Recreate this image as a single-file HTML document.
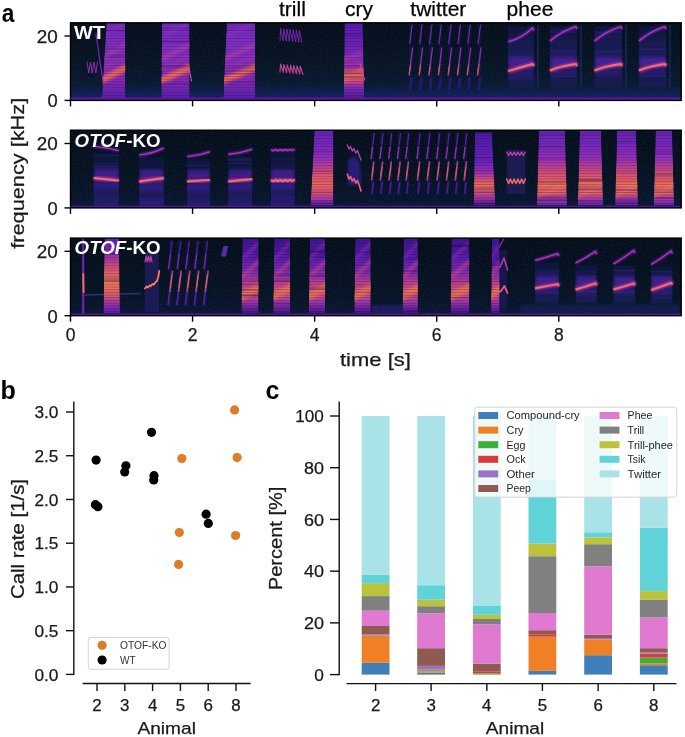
<!DOCTYPE html><html><head><meta charset="utf-8"><style>html,body{margin:0;padding:0;background:#fff;}svg{display:block;}text{font-family:"Liberation Sans",sans-serif;}</style></head><body>
<svg width="685" height="737" viewBox="0 0 685 737">
<rect width="685" height="737" fill="#ffffff"/>
<g opacity="0.999">
<defs>
<filter id="blur1" x="-20%" y="-20%" width="140%" height="140%"><feGaussianBlur stdDeviation="0.6"/></filter>
<filter id="blur2" x="-30%" y="-30%" width="160%" height="160%"><feGaussianBlur stdDeviation="1.4"/></filter>
<filter id="glow" x="-20%" y="-50%" width="140%" height="200%"><feGaussianBlur stdDeviation="0.8"/></filter>
<linearGradient id="gBG" x1="0" y1="0" x2="0" y2="1">
      <stop offset="0" stop-color="#040d18"/>
      <stop offset="0.6" stop-color="#061424"/>
      <stop offset="0.8" stop-color="#081830"/>
      <stop offset="0.93" stop-color="#101e54"/>
      <stop offset="1" stop-color="#1c2274"/>
    </linearGradient>
<linearGradient id="gBG2" x1="0" y1="0" x2="0" y2="1">
      <stop offset="0" stop-color="#040d18"/>
      <stop offset="0.7" stop-color="#051222"/>
      <stop offset="0.9" stop-color="#07142c"/>
      <stop offset="1" stop-color="#0b163a"/>
    </linearGradient>
<linearGradient id="gPhB" x1="0" y1="0" x2="0" y2="1">
      <stop offset="0" stop-color="#0c1436"/>
      <stop offset="0.3" stop-color="#141a4a"/>
      <stop offset="0.5" stop-color="#1c1c5a"/>
      <stop offset="0.65" stop-color="#2a1c78"/>
      <stop offset="0.75" stop-color="#1c1a58"/>
      <stop offset="0.9" stop-color="#221a66"/>
      <stop offset="1" stop-color="#2c1a78"/>
    </linearGradient>
<linearGradient id="gWT" x1="0" y1="0" x2="0" y2="1">
      <stop offset="0" stop-color="#7a2cc4"/>
      <stop offset="0.3" stop-color="#8430c2"/>
      <stop offset="0.55" stop-color="#8e30bc"/>
      <stop offset="0.75" stop-color="#8a2cb8"/>
      <stop offset="0.9" stop-color="#7026b2"/>
      <stop offset="1" stop-color="#5a20a8"/>
    </linearGradient>
<linearGradient id="gKO" x1="0" y1="0" x2="0" y2="1">
      <stop offset="0" stop-color="#6a24b8"/>
      <stop offset="0.2" stop-color="#7c2abe"/>
      <stop offset="0.38" stop-color="#9a32b8"/>
      <stop offset="0.5" stop-color="#c6448e"/>
      <stop offset="0.62" stop-color="#e65a6a"/>
      <stop offset="0.75" stop-color="#ee6660"/>
      <stop offset="0.86" stop-color="#d04c80"/>
      <stop offset="0.94" stop-color="#9a36b0"/>
      <stop offset="1" stop-color="#6022aa"/>
    </linearGradient>
<linearGradient id="gK3" x1="0" y1="0" x2="0" y2="1">
      <stop offset="0" stop-color="#40168e"/>
      <stop offset="0.25" stop-color="#581cac"/>
      <stop offset="0.45" stop-color="#842cb4"/>
      <stop offset="0.6" stop-color="#c0428e"/>
      <stop offset="0.72" stop-color="#e65c66"/>
      <stop offset="0.84" stop-color="#ac3aa8"/>
      <stop offset="1" stop-color="#40168e"/>
    </linearGradient>
<linearGradient id="gCry" x1="0" y1="0" x2="0" y2="1">
      <stop offset="0" stop-color="#4a1ca8"/>
      <stop offset="0.4" stop-color="#6e24bc"/>
      <stop offset="0.56" stop-color="#a434b0"/>
      <stop offset="0.66" stop-color="#e05870"/>
      <stop offset="0.76" stop-color="#f07252"/>
      <stop offset="0.86" stop-color="#c44490"/>
      <stop offset="1" stop-color="#4e1ca0"/>
    </linearGradient>
<linearGradient id="gCry1" x1="0" y1="0" x2="0" y2="1">
      <stop offset="0" stop-color="#5c1eae"/>
      <stop offset="0.3" stop-color="#7024b8"/>
      <stop offset="0.5" stop-color="#902eb8"/>
      <stop offset="0.6" stop-color="#ae38aa"/>
      <stop offset="0.66" stop-color="#d85070"/>
      <stop offset="0.72" stop-color="#ee6a5c"/>
      <stop offset="0.78" stop-color="#d0487e"/>
      <stop offset="0.86" stop-color="#8a2cb4"/>
      <stop offset="1" stop-color="#4e1ca0"/>
    </linearGradient>
<linearGradient id="gK3b" x1="0" y1="0" x2="0" y2="1">
      <stop offset="0" stop-color="#6a22c0"/>
      <stop offset="0.2" stop-color="#8a2eb8"/>
      <stop offset="0.32" stop-color="#c2448c"/>
      <stop offset="0.45" stop-color="#e86264"/>
      <stop offset="0.62" stop-color="#f27a52"/>
      <stop offset="0.76" stop-color="#e05e6a"/>
      <stop offset="0.86" stop-color="#a63aa8"/>
      <stop offset="1" stop-color="#5a1ea8"/>
    </linearGradient>
<linearGradient id="gPh" x1="0" y1="0" x2="0" y2="1">
      <stop offset="0" stop-color="#0e163c"/>
      <stop offset="0.35" stop-color="#171c52"/>
      <stop offset="0.55" stop-color="#221e66"/>
      <stop offset="0.7" stop-color="#1c1c5a"/>
      <stop offset="1" stop-color="#131a46"/>
    </linearGradient>
<filter id="noise" x="0" y="0" width="100%" height="100%" filterUnits="objectBoundingBox">
      <feTurbulence type="fractalNoise" baseFrequency="0.7 0.9" numOctaves="1" seed="5" result="n"/>
      <feColorMatrix in="n" type="matrix" values="0 0 0 0 0.07  0 0 0 0 0.11  0 0 0 0 0.26  0 0 0 1.4 -0.58"/>
    </filter>
<pattern id="pStr" x="0" y="0.3" width="40" height="2.7" patternUnits="userSpaceOnUse"><rect x="0" y="0" width="40" height="1.0" fill="#180848" opacity="0.32"/></pattern>
</defs>
<text x="1.80" y="22.00" font-size="25" text-anchor="start" font-weight="bold" fill="#000" textLength="12.60" lengthAdjust="spacingAndGlyphs" >a</text>
<text x="0.60" y="399.30" font-size="25" text-anchor="start" font-weight="bold" fill="#000" >b</text>
<text x="265.60" y="399.30" font-size="25" text-anchor="start" font-weight="bold" fill="#000" >c</text>
<text x="279.00" y="16.40" font-size="21.0" text-anchor="start" fill="#000" stroke="#000" stroke-width="0.25" >trill</text>
<text x="345.00" y="16.40" font-size="21.0" text-anchor="start" fill="#000" stroke="#000" stroke-width="0.25" >cry</text>
<text x="410.30" y="16.40" font-size="21.0" text-anchor="start" fill="#000" stroke="#000" stroke-width="0.25" >twitter</text>
<text x="506.60" y="16.40" font-size="21.0" text-anchor="start" fill="#000" stroke="#000" stroke-width="0.25" >phee</text>
<g>
<rect x="70.50" y="22.80" width="610.70" height="77.60" fill="url(#gBG)"/>
<rect x="70.50" y="22.80" width="610.70" height="77.60" filter="url(#noise)" opacity="0.35"/>
<g filter="url(#blur1)">
<clipPath id="cb1"><polygon points="106.5,22.8 125.2,22.8 125.2,97.9 101.9,97.9" fill="#000" /></clipPath>
<g clip-path="url(#cb1)">
<polygon points="106.5,22.8 125.2,22.8 125.2,97.9 101.9,97.9" fill="url(#gWT)" />
<polygon points="99.9,77.0 127.2,63.0 127.2,71.0 99.9,85.0" fill="#e85a62" opacity="0.90" filter="url(#blur2)"/>
<polygon points="99.9,79.2 127.2,65.2 127.2,68.8 99.9,82.8" fill="#f47a58" opacity="0.80" filter="url(#blur2)"/>
<polygon points="99.9,57.5 127.2,41.5 127.2,46.5 99.9,62.5" fill="#b240b8" opacity="0.75" filter="url(#blur2)"/>
<polygon points="99.9,68.5 127.2,54.5 127.2,57.5 99.9,71.5" fill="#a238bc" opacity="0.60" filter="url(#blur2)"/>
<polygon points="103.9,34.0 121.2,23.0 121.2,27.0 103.9,38.0" fill="#9a38c4" opacity="0.70" filter="url(#blur2)"/>
<rect x="99.9" y="22.8" width="27.3" height="75.1" fill="url(#pStr)"/>
<rect x="101.9" y="47.8" width="23.3" height="1.2" fill="#1e0c58" opacity="0.25"/>
<rect x="101.9" y="30.0" width="23.3" height="1.6" fill="#1e0c58" opacity="0.19"/>
<rect x="101.9" y="28.9" width="23.3" height="1.6" fill="#1e0c58" opacity="0.13"/>
<rect x="101.9" y="55.6" width="23.3" height="1.1" fill="#1e0c58" opacity="0.14"/>
<rect x="101.9" y="55.0" width="23.3" height="2.0" fill="#1e0c58" opacity="0.14"/>
</g>
<clipPath id="cb2"><polygon points="161.9,22.8 189.5,22.8 189.5,97.9 161.4,97.9" fill="#000" /></clipPath>
<g clip-path="url(#cb2)">
<polygon points="161.9,22.8 189.5,22.8 189.5,97.9 161.4,97.9" fill="url(#gWT)" />
<polygon points="159.4,77.0 191.5,63.0 191.5,71.0 159.4,85.0" fill="#e85a62" opacity="0.90" filter="url(#blur2)"/>
<polygon points="159.4,79.2 191.5,65.2 191.5,68.8 159.4,82.8" fill="#f47a58" opacity="0.80" filter="url(#blur2)"/>
<polygon points="159.4,57.5 191.5,41.5 191.5,46.5 159.4,62.5" fill="#b240b8" opacity="0.75" filter="url(#blur2)"/>
<polygon points="159.4,68.5 191.5,54.5 191.5,57.5 159.4,71.5" fill="#a238bc" opacity="0.60" filter="url(#blur2)"/>
<polygon points="163.4,34.0 185.5,23.0 185.5,27.0 163.4,38.0" fill="#9a38c4" opacity="0.70" filter="url(#blur2)"/>
<rect x="159.4" y="22.8" width="32.1" height="75.1" fill="url(#pStr)"/>
<rect x="161.4" y="40.7" width="28.1" height="1.8" fill="#1e0c58" opacity="0.31"/>
<rect x="161.4" y="65.8" width="28.1" height="1.5" fill="#1e0c58" opacity="0.32"/>
<rect x="161.4" y="28.1" width="28.1" height="2.0" fill="#1e0c58" opacity="0.18"/>
<rect x="161.4" y="35.1" width="28.1" height="1.1" fill="#1e0c58" opacity="0.18"/>
<rect x="161.4" y="82.8" width="28.1" height="1.2" fill="#1e0c58" opacity="0.24"/>
</g>
<clipPath id="cb3"><polygon points="226.8,22.8 255.0,22.8 255.0,97.9 223.3,97.9" fill="#000" /></clipPath>
<g clip-path="url(#cb3)">
<polygon points="226.8,22.8 255.0,22.8 255.0,97.9 223.3,97.9" fill="url(#gWT)" />
<polygon points="221.3,77.0 257.0,63.0 257.0,71.0 221.3,85.0" fill="#e85a62" opacity="0.90" filter="url(#blur2)"/>
<polygon points="221.3,79.2 257.0,65.2 257.0,68.8 221.3,82.8" fill="#f47a58" opacity="0.80" filter="url(#blur2)"/>
<polygon points="221.3,57.5 257.0,41.5 257.0,46.5 221.3,62.5" fill="#b240b8" opacity="0.75" filter="url(#blur2)"/>
<polygon points="221.3,68.5 257.0,54.5 257.0,57.5 221.3,71.5" fill="#a238bc" opacity="0.60" filter="url(#blur2)"/>
<polygon points="225.3,34.0 251.0,23.0 251.0,27.0 225.3,38.0" fill="#9a38c4" opacity="0.70" filter="url(#blur2)"/>
<rect x="221.3" y="22.8" width="35.7" height="75.1" fill="url(#pStr)"/>
<rect x="223.3" y="70.2" width="31.7" height="1.4" fill="#1e0c58" opacity="0.23"/>
<rect x="223.3" y="29.3" width="31.7" height="1.1" fill="#1e0c58" opacity="0.16"/>
<rect x="223.3" y="73.2" width="31.7" height="1.5" fill="#1e0c58" opacity="0.18"/>
<rect x="223.3" y="66.4" width="31.7" height="1.5" fill="#1e0c58" opacity="0.18"/>
<rect x="223.3" y="81.3" width="31.7" height="1.8" fill="#1e0c58" opacity="0.17"/>
</g>
<polyline points="189.0,68.0 191.5,81.0" fill="none" stroke="#d04a9a" stroke-width="1.2" stroke-linejoin="round" stroke-linecap="round" />
<polyline points="96.0,34.0 103.0,82.0" fill="none" stroke="#7a24b8" stroke-width="1.2" stroke-linejoin="round" stroke-linecap="round" />
<polyline points="87.0,62.0 88.8,73.0 90.5,62.0 92.2,73.0 94.0,62.0 95.8,73.0 97.5,62.0" fill="none" stroke="#9a30b0" stroke-width="0.9" stroke-linejoin="round" stroke-linecap="round" />
<polyline points="280.0,40.5 280.6,28.5 283.1,40.8 283.7,28.8 286.3,41.1 286.9,29.1 289.4,41.4 290.0,29.4 292.6,41.6 293.2,29.6 295.7,41.9 296.3,29.9 298.9,42.2 299.5,30.2 302.0,42.5" fill="none" stroke="#7a28b8" stroke-width="0.9" stroke-linejoin="round" stroke-linecap="round" />
<polyline points="280.0,72.0 280.6,64.0 283.3,72.4 283.9,64.4 286.6,72.7 287.2,64.7 289.9,73.1 290.5,65.1 293.1,73.4 293.7,65.4 296.4,73.8 297.0,65.8 299.7,74.1 300.3,66.1 303.0,74.5" fill="none" stroke="#c04494" stroke-width="1.1" stroke-linejoin="round" stroke-linecap="round" />
<clipPath id="cb4"><polygon points="344.6,22.8 362.7,22.8 364.2,97.9 343.8,97.9" fill="#000" /></clipPath>
<g clip-path="url(#cb4)">
<polygon points="344.6,22.8 362.7,22.8 364.2,97.9 343.8,97.9" fill="url(#gCry1)" />
<polygon points="342.0,76.0 366.0,66.0 366.0,73.0 342.0,83.0" fill="#ee6a5c" opacity="0.85" filter="url(#blur2)"/>
<polygon points="342.0,58.0 366.0,50.0 366.0,54.0 342.0,62.0" fill="#b040b0" opacity="0.60" filter="url(#blur2)"/>
<rect x="341.8" y="22.8" width="24.4" height="75.1" fill="url(#pStr)"/>
<rect x="343.8" y="65.6" width="20.4" height="1.6" fill="#1e0c58" opacity="0.30"/>
<rect x="343.8" y="76.7" width="20.4" height="1.3" fill="#1e0c58" opacity="0.32"/>
<rect x="343.8" y="33.2" width="20.4" height="1.5" fill="#1e0c58" opacity="0.27"/>
<rect x="343.8" y="35.6" width="20.4" height="1.6" fill="#1e0c58" opacity="0.13"/>
<rect x="343.8" y="72.3" width="20.4" height="1.9" fill="#1e0c58" opacity="0.23"/>
</g>
<polyline points="360.0,64.0 364.5,80.0" fill="none" stroke="#c8449a" stroke-width="1.3" stroke-linejoin="round" stroke-linecap="round" />
<rect x="409.4" y="25.0" width="3.0" height="64.0" fill="#161856" opacity="0.5"/>
<g opacity="0.85">
<polyline points="409.7,43.6 412.1,25.0" fill="none" stroke="#8228be" stroke-width="1.3" stroke-linejoin="round" stroke-linecap="round" />
<polyline points="410.5,64.7 412.6,48.0" fill="none" stroke="#a032bc" stroke-width="1.4" stroke-linejoin="round" stroke-linecap="round" />
<polyline points="409.2,74.9 410.5,64.7" fill="none" stroke="#d04a8c" stroke-width="1.5" stroke-linejoin="round" stroke-linecap="round" />
<polyline points="409.4,73.0 410.2,67.2" fill="none" stroke="#ec6a70" stroke-width="0.9" stroke-linejoin="round" stroke-linecap="round" />
<polyline points="410.2,89.0 411.6,78.8" fill="none" stroke="#281a7a" stroke-width="2.8" stroke-linejoin="round" stroke-linecap="round" />
</g>
<rect x="419.4" y="25.0" width="3.0" height="64.0" fill="#161856" opacity="0.5"/>
<g opacity="0.85">
<polyline points="419.7,43.6 422.1,25.0" fill="none" stroke="#8228be" stroke-width="1.3" stroke-linejoin="round" stroke-linecap="round" />
<polyline points="420.5,64.7 422.6,48.0" fill="none" stroke="#a032bc" stroke-width="1.4" stroke-linejoin="round" stroke-linecap="round" />
<polyline points="419.2,74.9 420.5,64.7" fill="none" stroke="#d04a8c" stroke-width="1.5" stroke-linejoin="round" stroke-linecap="round" />
<polyline points="419.4,73.0 420.2,67.2" fill="none" stroke="#ec6a70" stroke-width="0.9" stroke-linejoin="round" stroke-linecap="round" />
<polyline points="420.2,89.0 421.6,78.8" fill="none" stroke="#281a7a" stroke-width="2.8" stroke-linejoin="round" stroke-linecap="round" />
</g>
<rect x="429.2" y="25.0" width="3.0" height="64.0" fill="#161856" opacity="0.5"/>
<g opacity="0.85">
<polyline points="429.5,43.6 431.9,25.0" fill="none" stroke="#8228be" stroke-width="1.3" stroke-linejoin="round" stroke-linecap="round" />
<polyline points="430.3,64.7 432.4,48.0" fill="none" stroke="#a032bc" stroke-width="1.4" stroke-linejoin="round" stroke-linecap="round" />
<polyline points="429.0,74.9 430.3,64.7" fill="none" stroke="#d04a8c" stroke-width="1.5" stroke-linejoin="round" stroke-linecap="round" />
<polyline points="429.2,73.0 430.0,67.2" fill="none" stroke="#ec6a70" stroke-width="0.9" stroke-linejoin="round" stroke-linecap="round" />
<polyline points="430.0,89.0 431.4,78.8" fill="none" stroke="#281a7a" stroke-width="2.8" stroke-linejoin="round" stroke-linecap="round" />
</g>
<rect x="438.6" y="25.0" width="3.0" height="64.0" fill="#161856" opacity="0.5"/>
<g opacity="0.85">
<polyline points="438.9,43.6 441.3,25.0" fill="none" stroke="#8228be" stroke-width="1.3" stroke-linejoin="round" stroke-linecap="round" />
<polyline points="439.7,64.7 441.8,48.0" fill="none" stroke="#a032bc" stroke-width="1.4" stroke-linejoin="round" stroke-linecap="round" />
<polyline points="438.4,74.9 439.7,64.7" fill="none" stroke="#d04a8c" stroke-width="1.5" stroke-linejoin="round" stroke-linecap="round" />
<polyline points="438.6,73.0 439.4,67.2" fill="none" stroke="#ec6a70" stroke-width="0.9" stroke-linejoin="round" stroke-linecap="round" />
<polyline points="439.4,89.0 440.8,78.8" fill="none" stroke="#281a7a" stroke-width="2.8" stroke-linejoin="round" stroke-linecap="round" />
</g>
<rect x="448.4" y="25.0" width="3.0" height="64.0" fill="#161856" opacity="0.5"/>
<g opacity="0.85">
<polyline points="448.7,43.6 451.1,25.0" fill="none" stroke="#8228be" stroke-width="1.3" stroke-linejoin="round" stroke-linecap="round" />
<polyline points="449.5,64.7 451.6,48.0" fill="none" stroke="#a032bc" stroke-width="1.4" stroke-linejoin="round" stroke-linecap="round" />
<polyline points="448.2,74.9 449.5,64.7" fill="none" stroke="#d04a8c" stroke-width="1.5" stroke-linejoin="round" stroke-linecap="round" />
<polyline points="448.4,73.0 449.2,67.2" fill="none" stroke="#ec6a70" stroke-width="0.9" stroke-linejoin="round" stroke-linecap="round" />
<polyline points="449.2,89.0 450.6,78.8" fill="none" stroke="#281a7a" stroke-width="2.8" stroke-linejoin="round" stroke-linecap="round" />
</g>
<rect x="457.7" y="25.0" width="3.0" height="64.0" fill="#161856" opacity="0.5"/>
<g opacity="0.85">
<polyline points="458.0,43.6 460.4,25.0" fill="none" stroke="#8228be" stroke-width="1.3" stroke-linejoin="round" stroke-linecap="round" />
<polyline points="458.8,64.7 460.9,48.0" fill="none" stroke="#a032bc" stroke-width="1.4" stroke-linejoin="round" stroke-linecap="round" />
<polyline points="457.5,74.9 458.8,64.7" fill="none" stroke="#d04a8c" stroke-width="1.5" stroke-linejoin="round" stroke-linecap="round" />
<polyline points="457.7,73.0 458.5,67.2" fill="none" stroke="#ec6a70" stroke-width="0.9" stroke-linejoin="round" stroke-linecap="round" />
<polyline points="458.5,89.0 459.9,78.8" fill="none" stroke="#281a7a" stroke-width="2.8" stroke-linejoin="round" stroke-linecap="round" />
</g>
<rect x="467.5" y="25.0" width="3.0" height="64.0" fill="#161856" opacity="0.5"/>
<g opacity="0.85">
<polyline points="467.8,43.6 470.2,25.0" fill="none" stroke="#8228be" stroke-width="1.3" stroke-linejoin="round" stroke-linecap="round" />
<polyline points="468.6,64.7 470.7,48.0" fill="none" stroke="#a032bc" stroke-width="1.4" stroke-linejoin="round" stroke-linecap="round" />
<polyline points="467.3,74.9 468.6,64.7" fill="none" stroke="#d04a8c" stroke-width="1.5" stroke-linejoin="round" stroke-linecap="round" />
<polyline points="467.5,73.0 468.3,67.2" fill="none" stroke="#ec6a70" stroke-width="0.9" stroke-linejoin="round" stroke-linecap="round" />
<polyline points="468.3,89.0 469.7,78.8" fill="none" stroke="#281a7a" stroke-width="2.8" stroke-linejoin="round" stroke-linecap="round" />
</g>
<rect x="477.8" y="25.0" width="3.0" height="64.0" fill="#161856" opacity="0.5"/>
<g opacity="0.85">
<polyline points="478.1,43.6 480.5,25.0" fill="none" stroke="#8228be" stroke-width="1.3" stroke-linejoin="round" stroke-linecap="round" />
<polyline points="478.9,64.7 481.0,48.0" fill="none" stroke="#a032bc" stroke-width="1.4" stroke-linejoin="round" stroke-linecap="round" />
<polyline points="477.6,74.9 478.9,64.7" fill="none" stroke="#d04a8c" stroke-width="1.5" stroke-linejoin="round" stroke-linecap="round" />
<polyline points="477.8,73.0 478.6,67.2" fill="none" stroke="#ec6a70" stroke-width="0.9" stroke-linejoin="round" stroke-linecap="round" />
<polyline points="478.6,89.0 480.0,78.8" fill="none" stroke="#281a7a" stroke-width="2.8" stroke-linejoin="round" stroke-linecap="round" />
</g>
<rect x="537.0" y="24.8" width="1.6" height="62" fill="#182a66" opacity="0.8"/>
<rect x="508.1" y="25.8" width="25.7" height="62.6" fill="url(#gPh)"/>
<rect x="509.1" y="57.6" width="23.7" height="10.0" fill="#5a22b0" opacity="0.6" filter="url(#blur2)"/>
<rect x="509.1" y="70.6" width="23.7" height="5.0" fill="#3a1e90" opacity="0.45" filter="url(#blur2)"/>
<rect x="508.1" y="79.1" width="25.7" height="1.1" fill="#3a2a90" opacity="0.33"/>
<rect x="508.1" y="68.5" width="25.7" height="1.1" fill="#3a2a90" opacity="0.40"/>
<rect x="508.1" y="61.8" width="25.7" height="1.1" fill="#3a2a90" opacity="0.36"/>
<rect x="508.1" y="77.0" width="25.7" height="1.1" fill="#3a2a90" opacity="0.49"/>
<rect x="508.1" y="55.6" width="25.7" height="1.1" fill="#3a2a90" opacity="0.42"/>
<path d="M508.1,41.8 Q522.2,38.3 532.6,27.8 L533.8,30.3" fill="none" stroke="#8a26c0" stroke-width="2.2" filter="url(#glow)"/>
<path d="M508.1,41.8 Q522.2,38.3 532.6,27.8 L533.8,30.3" fill="none" stroke="#b63cbc" stroke-width="1.1"/>
<path d="M508.1,71.2 Q521.0,67.2 532.6,64.0 L533.8,66.0" fill="none" stroke="#b83498" stroke-width="4.0" filter="url(#glow)"/>
<path d="M508.1,71.2 Q521.0,67.2 532.6,64.0 L533.8,66.0" fill="none" stroke="#f27260" stroke-width="1.9"/>
<rect x="580.2" y="24.8" width="1.6" height="62" fill="#182a66" opacity="0.8"/>
<rect x="550.0" y="25.8" width="27.0" height="62.6" fill="url(#gPh)"/>
<rect x="551.0" y="57.2" width="25.0" height="10.0" fill="#5a22b0" opacity="0.6" filter="url(#blur2)"/>
<rect x="551.0" y="70.2" width="25.0" height="5.0" fill="#3a1e90" opacity="0.45" filter="url(#blur2)"/>
<rect x="550.0" y="31.4" width="27.0" height="1.1" fill="#3a2a90" opacity="0.43"/>
<rect x="550.0" y="65.7" width="27.0" height="1.1" fill="#3a2a90" opacity="0.50"/>
<rect x="550.0" y="76.0" width="27.0" height="1.1" fill="#3a2a90" opacity="0.32"/>
<rect x="550.0" y="50.4" width="27.0" height="1.1" fill="#3a2a90" opacity="0.42"/>
<rect x="550.0" y="29.1" width="27.0" height="1.1" fill="#3a2a90" opacity="0.37"/>
<path d="M550.0,41.0 Q560.8,31.6 575.8,26.5 L577.0,29.0" fill="none" stroke="#8a26c0" stroke-width="2.2" filter="url(#glow)"/>
<path d="M550.0,41.0 Q560.8,31.6 575.8,26.5 L577.0,29.0" fill="none" stroke="#b63cbc" stroke-width="1.1"/>
<path d="M550.0,70.5 Q560.8,66.0 575.8,64.0 L577.0,66.0" fill="none" stroke="#b83498" stroke-width="4.0" filter="url(#glow)"/>
<path d="M550.0,70.5 Q560.8,66.0 575.8,64.0 L577.0,66.0" fill="none" stroke="#f27260" stroke-width="1.9"/>
<rect x="625.2" y="24.8" width="1.6" height="62" fill="#182a66" opacity="0.8"/>
<rect x="594.5" y="25.8" width="27.5" height="62.6" fill="url(#gPh)"/>
<rect x="595.5" y="57.2" width="25.5" height="10.0" fill="#5a22b0" opacity="0.6" filter="url(#blur2)"/>
<rect x="595.5" y="70.2" width="25.5" height="5.0" fill="#3a1e90" opacity="0.45" filter="url(#blur2)"/>
<rect x="594.5" y="37.6" width="27.5" height="1.1" fill="#3a2a90" opacity="0.28"/>
<rect x="594.5" y="31.3" width="27.5" height="1.1" fill="#3a2a90" opacity="0.44"/>
<rect x="594.5" y="35.4" width="27.5" height="1.1" fill="#3a2a90" opacity="0.31"/>
<rect x="594.5" y="50.7" width="27.5" height="1.1" fill="#3a2a90" opacity="0.47"/>
<rect x="594.5" y="32.5" width="27.5" height="1.1" fill="#3a2a90" opacity="0.36"/>
<path d="M594.5,41.0 Q605.5,31.6 620.8,26.5 L622.0,29.0" fill="none" stroke="#8a26c0" stroke-width="2.2" filter="url(#glow)"/>
<path d="M594.5,41.0 Q605.5,31.6 620.8,26.5 L622.0,29.0" fill="none" stroke="#b63cbc" stroke-width="1.1"/>
<path d="M594.5,70.5 Q605.5,66.0 620.8,64.0 L622.0,66.0" fill="none" stroke="#b83498" stroke-width="4.0" filter="url(#glow)"/>
<path d="M594.5,70.5 Q605.5,66.0 620.8,64.0 L622.0,66.0" fill="none" stroke="#f27260" stroke-width="1.9"/>
<rect x="669.2" y="24.8" width="1.6" height="62" fill="#182a66" opacity="0.8"/>
<rect x="639.0" y="25.8" width="27.0" height="62.6" fill="url(#gPh)"/>
<rect x="640.0" y="57.2" width="25.0" height="10.0" fill="#5a22b0" opacity="0.6" filter="url(#blur2)"/>
<rect x="640.0" y="70.2" width="25.0" height="5.0" fill="#3a1e90" opacity="0.45" filter="url(#blur2)"/>
<rect x="639.0" y="60.0" width="27.0" height="1.1" fill="#3a2a90" opacity="0.47"/>
<rect x="639.0" y="75.8" width="27.0" height="1.1" fill="#3a2a90" opacity="0.47"/>
<rect x="639.0" y="44.1" width="27.0" height="1.1" fill="#3a2a90" opacity="0.35"/>
<rect x="639.0" y="48.8" width="27.0" height="1.1" fill="#3a2a90" opacity="0.47"/>
<rect x="639.0" y="83.9" width="27.0" height="1.1" fill="#3a2a90" opacity="0.29"/>
<path d="M639.0,41.0 Q649.8,31.6 664.8,26.5 L666.0,29.0" fill="none" stroke="#8a26c0" stroke-width="2.2" filter="url(#glow)"/>
<path d="M639.0,41.0 Q649.8,31.6 664.8,26.5 L666.0,29.0" fill="none" stroke="#b63cbc" stroke-width="1.1"/>
<path d="M639.0,70.5 Q649.8,66.0 664.8,64.0 L666.0,66.0" fill="none" stroke="#b83498" stroke-width="4.0" filter="url(#glow)"/>
<path d="M639.0,70.5 Q649.8,66.0 664.8,64.0 L666.0,66.0" fill="none" stroke="#f27260" stroke-width="1.9"/>
</g>
<rect x="70.50" y="97.70" width="610.70" height="2.2" fill="#64189e"/>
</g>
<rect x="70.50" y="22.80" width="610.70" height="77.60" fill="none" stroke="#000" stroke-width="1.4"/>
<line x1="64.50" y1="100.40" x2="70.50" y2="100.40" stroke="#000" stroke-width="1.4"/>
<text x="57.80" y="107.20" font-size="17.5" text-anchor="end" fill="#1a1a1a" textLength="10.20" lengthAdjust="spacingAndGlyphs" stroke="#1a1a1a" stroke-width="0.25" >0</text>
<line x1="64.50" y1="36.00" x2="70.50" y2="36.00" stroke="#000" stroke-width="1.4"/>
<text x="57.80" y="42.80" font-size="17.5" text-anchor="end" fill="#1a1a1a" textLength="21.00" lengthAdjust="spacingAndGlyphs" stroke="#1a1a1a" stroke-width="0.25" >20</text>
<line x1="70.50" y1="100.40" x2="70.50" y2="106.40" stroke="#000" stroke-width="1.4"/>
<line x1="192.57" y1="100.40" x2="192.57" y2="106.40" stroke="#000" stroke-width="1.4"/>
<line x1="314.65" y1="100.40" x2="314.65" y2="106.40" stroke="#000" stroke-width="1.4"/>
<line x1="436.72" y1="100.40" x2="436.72" y2="106.40" stroke="#000" stroke-width="1.4"/>
<line x1="558.80" y1="100.40" x2="558.80" y2="106.40" stroke="#000" stroke-width="1.4"/>
<text x="74.00" y="38.60" font-size="17.5" text-anchor="start" font-weight="bold" fill="#fff" textLength="31.00" lengthAdjust="spacingAndGlyphs" >WT</text>
<g>
<rect x="70.50" y="130.20" width="610.70" height="77.70" fill="url(#gBG2)"/>
<rect x="70.50" y="130.20" width="610.70" height="77.70" filter="url(#noise)" opacity="0.35"/>
<g filter="url(#blur1)">
<rect x="93.7" y="152.5" width="25.2" height="53.4" fill="url(#gPhB)"/>
<rect x="94.7" y="169.2" width="23.2" height="10.0" fill="#5a22b0" opacity="0.6" filter="url(#blur2)"/>
<rect x="94.7" y="182.2" width="23.2" height="5.0" fill="#3a1e90" opacity="0.45" filter="url(#blur2)"/>
<rect x="93.7" y="163.2" width="25.2" height="1.1" fill="#3a2a90" opacity="0.31"/>
<rect x="93.7" y="166.0" width="25.2" height="1.1" fill="#3a2a90" opacity="0.37"/>
<rect x="93.7" y="183.6" width="25.2" height="1.1" fill="#3a2a90" opacity="0.32"/>
<rect x="93.7" y="154.7" width="25.2" height="1.1" fill="#3a2a90" opacity="0.35"/>
<rect x="93.7" y="172.7" width="25.2" height="1.1" fill="#3a2a90" opacity="0.39"/>
<path d="M93.7,146.5 Q107.6,147.5 117.7,150.5 L118.9,150.5" fill="none" stroke="#8a26c0" stroke-width="2.2" filter="url(#glow)"/>
<path d="M93.7,146.5 Q107.6,147.5 117.7,150.5 L118.9,150.5" fill="none" stroke="#b63cbc" stroke-width="1.1"/>
<path d="M93.7,178.0 Q106.3,179.4 117.7,180.5 L118.9,180.5" fill="none" stroke="#b83498" stroke-width="4.0" filter="url(#glow)"/>
<path d="M93.7,178.0 Q106.3,179.4 117.7,180.5 L118.9,180.5" fill="none" stroke="#f27260" stroke-width="1.9"/>
<rect x="139.2" y="157.0" width="24.6" height="48.9" fill="url(#gPhB)"/>
<rect x="140.2" y="169.9" width="22.6" height="10.0" fill="#5a22b0" opacity="0.6" filter="url(#blur2)"/>
<rect x="140.2" y="182.9" width="22.6" height="5.0" fill="#3a1e90" opacity="0.45" filter="url(#blur2)"/>
<rect x="139.2" y="201.8" width="24.6" height="1.1" fill="#3a2a90" opacity="0.42"/>
<rect x="139.2" y="182.1" width="24.6" height="1.1" fill="#3a2a90" opacity="0.40"/>
<rect x="139.2" y="189.4" width="24.6" height="1.1" fill="#3a2a90" opacity="0.26"/>
<rect x="139.2" y="199.4" width="24.6" height="1.1" fill="#3a2a90" opacity="0.44"/>
<rect x="139.2" y="198.3" width="24.6" height="1.1" fill="#3a2a90" opacity="0.45"/>
<path d="M139.2,155.0 Q152.7,153.3 162.6,148.4 L163.8,148.4" fill="none" stroke="#8a26c0" stroke-width="2.2" filter="url(#glow)"/>
<path d="M139.2,155.0 Q152.7,153.3 162.6,148.4 L163.8,148.4" fill="none" stroke="#b63cbc" stroke-width="1.1"/>
<path d="M139.2,181.5 Q151.5,179.7 162.6,178.3 L163.8,178.3" fill="none" stroke="#b83498" stroke-width="4.0" filter="url(#glow)"/>
<path d="M139.2,181.5 Q151.5,179.7 162.6,178.3 L163.8,178.3" fill="none" stroke="#f27260" stroke-width="1.9"/>
<rect x="187.1" y="158.5" width="22.9" height="47.4" fill="url(#gPhB)"/>
<rect x="188.1" y="170.7" width="20.9" height="10.0" fill="#5a22b0" opacity="0.6" filter="url(#blur2)"/>
<rect x="188.1" y="183.7" width="20.9" height="5.0" fill="#3a1e90" opacity="0.45" filter="url(#blur2)"/>
<rect x="187.1" y="177.5" width="22.9" height="1.1" fill="#3a2a90" opacity="0.35"/>
<rect x="187.1" y="165.0" width="22.9" height="1.1" fill="#3a2a90" opacity="0.41"/>
<rect x="187.1" y="163.2" width="22.9" height="1.1" fill="#3a2a90" opacity="0.27"/>
<rect x="187.1" y="169.6" width="22.9" height="1.1" fill="#3a2a90" opacity="0.29"/>
<rect x="187.1" y="175.3" width="22.9" height="1.1" fill="#3a2a90" opacity="0.26"/>
<path d="M187.1,156.5 Q199.7,155.4 208.8,152.0 L210.0,152.0" fill="none" stroke="#8a26c0" stroke-width="2.2" filter="url(#glow)"/>
<path d="M187.1,156.5 Q199.7,155.4 208.8,152.0 L210.0,152.0" fill="none" stroke="#b63cbc" stroke-width="1.1"/>
<path d="M187.1,181.5 Q198.6,180.6 208.8,179.9 L210.0,179.9" fill="none" stroke="#b83498" stroke-width="4.0" filter="url(#glow)"/>
<path d="M187.1,181.5 Q198.6,180.6 208.8,179.9 L210.0,179.9" fill="none" stroke="#f27260" stroke-width="1.9"/>
<rect x="228.2" y="156.2" width="24.0" height="49.7" fill="url(#gPhB)"/>
<rect x="229.2" y="170.3" width="22.0" height="10.0" fill="#5a22b0" opacity="0.6" filter="url(#blur2)"/>
<rect x="229.2" y="183.3" width="22.0" height="5.0" fill="#3a1e90" opacity="0.45" filter="url(#blur2)"/>
<rect x="228.2" y="158.2" width="24.0" height="1.1" fill="#3a2a90" opacity="0.29"/>
<rect x="228.2" y="162.8" width="24.0" height="1.1" fill="#3a2a90" opacity="0.34"/>
<rect x="228.2" y="159.4" width="24.0" height="1.1" fill="#3a2a90" opacity="0.47"/>
<rect x="228.2" y="186.3" width="24.0" height="1.1" fill="#3a2a90" opacity="0.29"/>
<rect x="228.2" y="169.7" width="24.0" height="1.1" fill="#3a2a90" opacity="0.34"/>
<path d="M228.2,154.2 Q241.4,153.0 251.0,149.5 L252.2,149.5" fill="none" stroke="#8a26c0" stroke-width="2.2" filter="url(#glow)"/>
<path d="M228.2,154.2 Q241.4,153.0 251.0,149.5 L252.2,149.5" fill="none" stroke="#b63cbc" stroke-width="1.1"/>
<path d="M228.2,181.5 Q240.2,180.2 251.0,179.2 L252.2,179.2" fill="none" stroke="#b83498" stroke-width="4.0" filter="url(#glow)"/>
<path d="M228.2,181.5 Q240.2,180.2 251.0,179.2 L252.2,179.2" fill="none" stroke="#f27260" stroke-width="1.9"/>
<rect x="270.9" y="152.0" width="23.8" height="53.9" fill="url(#gPhB)"/>
<rect x="271.9" y="170.2" width="21.8" height="10.0" fill="#5a22b0" opacity="0.6" filter="url(#blur2)"/>
<rect x="271.9" y="183.2" width="21.8" height="5.0" fill="#3a1e90" opacity="0.45" filter="url(#blur2)"/>
<rect x="270.9" y="172.2" width="23.8" height="1.1" fill="#3a2a90" opacity="0.28"/>
<rect x="270.9" y="196.4" width="23.8" height="1.1" fill="#3a2a90" opacity="0.50"/>
<rect x="270.9" y="177.3" width="23.8" height="1.1" fill="#3a2a90" opacity="0.37"/>
<rect x="270.9" y="158.3" width="23.8" height="1.1" fill="#3a2a90" opacity="0.28"/>
<rect x="270.9" y="171.1" width="23.8" height="1.1" fill="#3a2a90" opacity="0.32"/>
<path d="M270.9,149.7 L273.3,150.8 L275.7,149.6 L278.0,150.8 L280.4,149.5 L282.8,150.7 L285.2,149.4 L287.6,150.6 L289.9,149.3 L292.3,150.5 L294.7,149.2" fill="none" stroke="#8a26c0" stroke-width="2.2" filter="url(#glow)"/>
<path d="M270.9,149.7 L273.3,150.8 L275.7,149.6 L278.0,150.8 L280.4,149.5 L282.8,150.7 L285.2,149.4 L287.6,150.6 L289.9,149.3 L292.3,150.5 L294.7,149.2" fill="none" stroke="#b63cbc" stroke-width="1.1"/>
<path d="M270.9,180.2 L273.3,181.3 L275.7,180.1 L278.0,181.2 L280.4,180.0 L282.8,181.2 L285.2,179.9 L287.6,181.1 L289.9,179.8 L292.3,181.0 L294.7,179.7" fill="none" stroke="#b83498" stroke-width="4.0" filter="url(#glow)"/>
<path d="M270.9,180.2 L273.3,181.3 L275.7,180.1 L278.0,181.2 L280.4,180.0 L282.8,181.2 L285.2,179.9 L287.6,181.1 L289.9,179.8 L292.3,181.0 L294.7,179.7" fill="none" stroke="#f27260" stroke-width="1.9"/>
<clipPath id="cb5"><polygon points="314.5,130.2 333.4,130.2 333.4,205.4 310.5,205.4" fill="#000" /></clipPath>
<g clip-path="url(#cb5)">
<polygon points="314.5,130.2 333.4,130.2 333.4,205.4 310.5,205.4" fill="url(#gKO)" />
<rect x="308.5" y="130.2" width="26.9" height="75.2" fill="url(#pStr)"/>
<rect x="310.5" y="191.2" width="22.9" height="1.2" fill="#1e0c58" opacity="0.12"/>
<rect x="310.5" y="199.9" width="22.9" height="1.6" fill="#1e0c58" opacity="0.15"/>
<rect x="310.5" y="170.9" width="22.9" height="1.0" fill="#1e0c58" opacity="0.23"/>
<rect x="310.5" y="201.9" width="22.9" height="2.0" fill="#1e0c58" opacity="0.26"/>
<rect x="310.5" y="150.8" width="22.9" height="1.4" fill="#1e0c58" opacity="0.15"/>
</g>
<polygon points="348.0,160.0 354.0,156.0 360.0,162.0 361.0,185.0 348.0,185.0" fill="#2a1e78" filter="url(#blur2)"/>
<polyline points="347.3,145.0 349.0,149.0 350.5,146.5 352.3,151.0 354.0,148.5 355.8,153.0 357.5,150.5 359.5,156.0 361.0,160.0" fill="none" stroke="#b43ab0" stroke-width="1.4" stroke-linejoin="round" stroke-linecap="round" />
<polyline points="347.3,174.0 349.0,179.0 350.5,176.5 352.3,181.0 354.0,178.5 355.8,183.0 357.5,180.5 359.5,186.0 361.0,191.0" fill="none" stroke="#ec6472" stroke-width="1.6" stroke-linejoin="round" stroke-linecap="round" />
<rect x="371.2" y="132.0" width="3.0" height="63.0" fill="#161856" opacity="0.5"/>
<g opacity="0.85">
<polyline points="372.9,144.6 374.3,133.3" fill="none" stroke="#6a22b8" stroke-width="1.3" stroke-linejoin="round" stroke-linecap="round" />
<polyline points="371.1,158.5 372.5,147.1" fill="none" stroke="#a434bc" stroke-width="1.5" stroke-linejoin="round" stroke-linecap="round" />
<polyline points="371.6,179.9 373.8,162.2" fill="none" stroke="#cc4488" stroke-width="1.7" stroke-linejoin="round" stroke-linecap="round" />
<polyline points="372.0,176.1 373.2,167.3" fill="none" stroke="#f07060" stroke-width="1.0" stroke-linejoin="round" stroke-linecap="round" />
<polyline points="372.0,193.1 373.4,182.4" fill="none" stroke="#4a1ca6" stroke-width="1.8" stroke-linejoin="round" stroke-linecap="round" />
</g>
<rect x="380.0" y="132.0" width="3.0" height="63.0" fill="#161856" opacity="0.5"/>
<g opacity="0.85">
<polyline points="381.7,144.6 383.1,133.3" fill="none" stroke="#6a22b8" stroke-width="1.3" stroke-linejoin="round" stroke-linecap="round" />
<polyline points="379.9,158.5 381.3,147.1" fill="none" stroke="#a434bc" stroke-width="1.5" stroke-linejoin="round" stroke-linecap="round" />
<polyline points="380.4,179.9 382.6,162.2" fill="none" stroke="#cc4488" stroke-width="1.7" stroke-linejoin="round" stroke-linecap="round" />
<polyline points="380.8,176.1 382.0,167.3" fill="none" stroke="#f07060" stroke-width="1.0" stroke-linejoin="round" stroke-linecap="round" />
<polyline points="380.8,193.1 382.2,182.4" fill="none" stroke="#4a1ca6" stroke-width="1.8" stroke-linejoin="round" stroke-linecap="round" />
</g>
<rect x="388.7" y="132.0" width="3.0" height="63.0" fill="#161856" opacity="0.5"/>
<g opacity="0.85">
<polyline points="390.4,144.6 391.8,133.3" fill="none" stroke="#6a22b8" stroke-width="1.3" stroke-linejoin="round" stroke-linecap="round" />
<polyline points="388.6,158.5 390.0,147.1" fill="none" stroke="#a434bc" stroke-width="1.5" stroke-linejoin="round" stroke-linecap="round" />
<polyline points="389.1,179.9 391.3,162.2" fill="none" stroke="#cc4488" stroke-width="1.7" stroke-linejoin="round" stroke-linecap="round" />
<polyline points="389.5,176.1 390.7,167.3" fill="none" stroke="#f07060" stroke-width="1.0" stroke-linejoin="round" stroke-linecap="round" />
<polyline points="389.5,193.1 390.9,182.4" fill="none" stroke="#4a1ca6" stroke-width="1.8" stroke-linejoin="round" stroke-linecap="round" />
</g>
<rect x="397.5" y="132.0" width="3.0" height="63.0" fill="#161856" opacity="0.5"/>
<g opacity="0.85">
<polyline points="399.2,144.6 400.6,133.3" fill="none" stroke="#6a22b8" stroke-width="1.3" stroke-linejoin="round" stroke-linecap="round" />
<polyline points="397.4,158.5 398.8,147.1" fill="none" stroke="#a434bc" stroke-width="1.5" stroke-linejoin="round" stroke-linecap="round" />
<polyline points="397.9,179.9 400.1,162.2" fill="none" stroke="#cc4488" stroke-width="1.7" stroke-linejoin="round" stroke-linecap="round" />
<polyline points="398.3,176.1 399.5,167.3" fill="none" stroke="#f07060" stroke-width="1.0" stroke-linejoin="round" stroke-linecap="round" />
<polyline points="398.3,193.1 399.7,182.4" fill="none" stroke="#4a1ca6" stroke-width="1.8" stroke-linejoin="round" stroke-linecap="round" />
</g>
<rect x="405.8" y="132.0" width="3.0" height="63.0" fill="#161856" opacity="0.5"/>
<g opacity="0.85">
<polyline points="407.5,144.6 408.9,133.3" fill="none" stroke="#6a22b8" stroke-width="1.3" stroke-linejoin="round" stroke-linecap="round" />
<polyline points="405.7,158.5 407.1,147.1" fill="none" stroke="#a434bc" stroke-width="1.5" stroke-linejoin="round" stroke-linecap="round" />
<polyline points="406.2,179.9 408.4,162.2" fill="none" stroke="#cc4488" stroke-width="1.7" stroke-linejoin="round" stroke-linecap="round" />
<polyline points="406.6,176.1 407.8,167.3" fill="none" stroke="#f07060" stroke-width="1.0" stroke-linejoin="round" stroke-linecap="round" />
<polyline points="406.6,193.1 408.0,182.4" fill="none" stroke="#4a1ca6" stroke-width="1.8" stroke-linejoin="round" stroke-linecap="round" />
</g>
<rect x="417.1" y="132.0" width="3.0" height="63.0" fill="#161856" opacity="0.5"/>
<g opacity="0.85">
<polyline points="418.8,144.6 420.2,133.3" fill="none" stroke="#6a22b8" stroke-width="1.3" stroke-linejoin="round" stroke-linecap="round" />
<polyline points="417.0,158.5 418.4,147.1" fill="none" stroke="#a434bc" stroke-width="1.5" stroke-linejoin="round" stroke-linecap="round" />
<polyline points="417.5,179.9 419.7,162.2" fill="none" stroke="#cc4488" stroke-width="1.7" stroke-linejoin="round" stroke-linecap="round" />
<polyline points="417.9,176.1 419.1,167.3" fill="none" stroke="#f07060" stroke-width="1.0" stroke-linejoin="round" stroke-linecap="round" />
<polyline points="417.9,193.1 419.3,182.4" fill="none" stroke="#4a1ca6" stroke-width="1.8" stroke-linejoin="round" stroke-linecap="round" />
</g>
<rect x="426.9" y="132.0" width="3.0" height="63.0" fill="#161856" opacity="0.5"/>
<g opacity="0.85">
<polyline points="428.6,144.6 430.0,133.3" fill="none" stroke="#6a22b8" stroke-width="1.3" stroke-linejoin="round" stroke-linecap="round" />
<polyline points="426.8,158.5 428.2,147.1" fill="none" stroke="#a434bc" stroke-width="1.5" stroke-linejoin="round" stroke-linecap="round" />
<polyline points="427.3,179.9 429.5,162.2" fill="none" stroke="#cc4488" stroke-width="1.7" stroke-linejoin="round" stroke-linecap="round" />
<polyline points="427.7,176.1 428.9,167.3" fill="none" stroke="#f07060" stroke-width="1.0" stroke-linejoin="round" stroke-linecap="round" />
<polyline points="427.7,193.1 429.1,182.4" fill="none" stroke="#4a1ca6" stroke-width="1.8" stroke-linejoin="round" stroke-linecap="round" />
</g>
<rect x="436.7" y="132.0" width="3.0" height="63.0" fill="#161856" opacity="0.5"/>
<g opacity="0.85">
<polyline points="438.4,144.6 439.8,133.3" fill="none" stroke="#6a22b8" stroke-width="1.3" stroke-linejoin="round" stroke-linecap="round" />
<polyline points="436.6,158.5 438.0,147.1" fill="none" stroke="#a434bc" stroke-width="1.5" stroke-linejoin="round" stroke-linecap="round" />
<polyline points="437.1,179.9 439.3,162.2" fill="none" stroke="#cc4488" stroke-width="1.7" stroke-linejoin="round" stroke-linecap="round" />
<polyline points="437.5,176.1 438.7,167.3" fill="none" stroke="#f07060" stroke-width="1.0" stroke-linejoin="round" stroke-linecap="round" />
<polyline points="437.5,193.1 438.9,182.4" fill="none" stroke="#4a1ca6" stroke-width="1.8" stroke-linejoin="round" stroke-linecap="round" />
</g>
<rect x="446.1" y="132.0" width="3.0" height="63.0" fill="#161856" opacity="0.5"/>
<g opacity="0.85">
<polyline points="447.8,144.6 449.2,133.3" fill="none" stroke="#6a22b8" stroke-width="1.3" stroke-linejoin="round" stroke-linecap="round" />
<polyline points="446.0,158.5 447.4,147.1" fill="none" stroke="#a434bc" stroke-width="1.5" stroke-linejoin="round" stroke-linecap="round" />
<polyline points="446.5,179.9 448.7,162.2" fill="none" stroke="#cc4488" stroke-width="1.7" stroke-linejoin="round" stroke-linecap="round" />
<polyline points="446.9,176.1 448.1,167.3" fill="none" stroke="#f07060" stroke-width="1.0" stroke-linejoin="round" stroke-linecap="round" />
<polyline points="446.9,193.1 448.3,182.4" fill="none" stroke="#4a1ca6" stroke-width="1.8" stroke-linejoin="round" stroke-linecap="round" />
</g>
<rect x="454.9" y="132.0" width="3.0" height="63.0" fill="#161856" opacity="0.5"/>
<g opacity="0.85">
<polyline points="456.6,144.6 458.0,133.3" fill="none" stroke="#6a22b8" stroke-width="1.3" stroke-linejoin="round" stroke-linecap="round" />
<polyline points="454.8,158.5 456.2,147.1" fill="none" stroke="#a434bc" stroke-width="1.5" stroke-linejoin="round" stroke-linecap="round" />
<polyline points="455.3,179.9 457.5,162.2" fill="none" stroke="#cc4488" stroke-width="1.7" stroke-linejoin="round" stroke-linecap="round" />
<polyline points="455.7,176.1 456.9,167.3" fill="none" stroke="#f07060" stroke-width="1.0" stroke-linejoin="round" stroke-linecap="round" />
<polyline points="455.7,193.1 457.1,182.4" fill="none" stroke="#4a1ca6" stroke-width="1.8" stroke-linejoin="round" stroke-linecap="round" />
</g>
<rect x="463.8" y="132.0" width="3.0" height="63.0" fill="#161856" opacity="0.5"/>
<g opacity="0.85">
<polyline points="465.5,144.6 466.9,133.3" fill="none" stroke="#6a22b8" stroke-width="1.3" stroke-linejoin="round" stroke-linecap="round" />
<polyline points="463.7,158.5 465.1,147.1" fill="none" stroke="#a434bc" stroke-width="1.5" stroke-linejoin="round" stroke-linecap="round" />
<polyline points="464.2,179.9 466.4,162.2" fill="none" stroke="#cc4488" stroke-width="1.7" stroke-linejoin="round" stroke-linecap="round" />
<polyline points="464.6,176.1 465.8,167.3" fill="none" stroke="#f07060" stroke-width="1.0" stroke-linejoin="round" stroke-linecap="round" />
<polyline points="464.6,193.1 466.0,182.4" fill="none" stroke="#4a1ca6" stroke-width="1.8" stroke-linejoin="round" stroke-linecap="round" />
</g>
<clipPath id="cb6"><polygon points="474.9,132.2 491.9,132.2 495.4,205.4 473.7,205.4" fill="#000" /></clipPath>
<g clip-path="url(#cb6)">
<polygon points="474.9,132.2 491.9,132.2 495.4,205.4 473.7,205.4" fill="url(#gCry)" />
<rect x="471.7" y="132.2" width="25.7" height="73.2" fill="url(#pStr)"/>
<rect x="473.7" y="187.6" width="21.7" height="1.6" fill="#1e0c58" opacity="0.28"/>
<rect x="473.7" y="157.0" width="21.7" height="1.3" fill="#1e0c58" opacity="0.28"/>
<rect x="473.7" y="202.4" width="21.7" height="2.0" fill="#1e0c58" opacity="0.28"/>
<rect x="473.7" y="190.8" width="21.7" height="1.9" fill="#1e0c58" opacity="0.17"/>
<rect x="473.7" y="170.0" width="21.7" height="1.4" fill="#1e0c58" opacity="0.13"/>
</g>
<rect x="506.7" y="150" width="18.6" height="44" fill="#1a1c52"/>
<polyline points="506.7,152.0 508.6,155.5 510.4,152.0 512.3,155.5 514.1,152.0 516.0,155.5 517.9,152.0 519.7,155.5 521.6,152.0 523.4,155.5 525.3,152.0" fill="none" stroke="#c040b0" stroke-width="1.3" stroke-linejoin="round" stroke-linecap="round" />
<polyline points="506.7,179.0 508.6,183.5 510.4,179.0 512.3,183.5 514.1,179.0 516.0,183.5 517.9,179.0 519.7,183.5 521.6,179.0 523.4,183.5 525.3,179.0" fill="none" stroke="#f06a6a" stroke-width="1.5" stroke-linejoin="round" stroke-linecap="round" />
<clipPath id="cb7"><polygon points="538.9,130.2 565.0,130.2 567.0,205.4 536.9,205.4" fill="#000" /></clipPath>
<g clip-path="url(#cb7)">
<polygon points="538.9,130.2 565.0,130.2 567.0,205.4 536.9,205.4" fill="url(#gKO)" />
<rect x="536.9" y="183" width="30.1" height="5" fill="#f68452" opacity="0.55" filter="url(#blur2)"/>
<rect x="536.9" y="191" width="30.1" height="4" fill="#f27458" opacity="0.5" filter="url(#blur2)"/>
<polygon points="534.9,196.5 567.0,182.5 567.0,185.5 534.9,199.5" fill="#f48a56" opacity="0.50" filter="url(#blur2)"/>
<rect x="534.9" y="130.2" width="34.1" height="75.2" fill="url(#pStr)"/>
<rect x="536.9" y="134.2" width="30.1" height="1.3" fill="#1e0c58" opacity="0.17"/>
<rect x="536.9" y="181.5" width="30.1" height="2.1" fill="#1e0c58" opacity="0.21"/>
<rect x="536.9" y="198.9" width="30.1" height="2.2" fill="#1e0c58" opacity="0.31"/>
<rect x="536.9" y="158.2" width="30.1" height="1.3" fill="#1e0c58" opacity="0.17"/>
<rect x="536.9" y="146.2" width="30.1" height="1.2" fill="#1e0c58" opacity="0.24"/>
<rect x="536.9" y="196.3" width="30.1" height="2.0" fill="#1e0c58" opacity="0.22"/>
</g>
<clipPath id="cb8"><polygon points="579.8,130.2 601.1,130.2 603.1,205.4 577.8,205.4" fill="#000" /></clipPath>
<g clip-path="url(#cb8)">
<polygon points="579.8,130.2 601.1,130.2 603.1,205.4 577.8,205.4" fill="url(#gKO)" />
<rect x="577.8" y="183" width="25.3" height="5" fill="#f68452" opacity="0.55" filter="url(#blur2)"/>
<rect x="577.8" y="191" width="25.3" height="4" fill="#f27458" opacity="0.5" filter="url(#blur2)"/>
<polygon points="575.8,196.5 603.1,182.5 603.1,185.5 575.8,199.5" fill="#f48a56" opacity="0.50" filter="url(#blur2)"/>
<rect x="575.8" y="130.2" width="29.3" height="75.2" fill="url(#pStr)"/>
<rect x="577.8" y="178.7" width="25.3" height="2.0" fill="#1e0c58" opacity="0.14"/>
<rect x="577.8" y="179.2" width="25.3" height="2.1" fill="#1e0c58" opacity="0.28"/>
<rect x="577.8" y="185.6" width="25.3" height="1.6" fill="#1e0c58" opacity="0.16"/>
<rect x="577.8" y="188.4" width="25.3" height="1.4" fill="#1e0c58" opacity="0.28"/>
<rect x="577.8" y="201.4" width="25.3" height="1.5" fill="#1e0c58" opacity="0.20"/>
<rect x="577.8" y="199.6" width="25.3" height="1.9" fill="#1e0c58" opacity="0.15"/>
</g>
<clipPath id="cb9"><polygon points="617.1,130.2 636.0,130.2 638.0,205.4 615.1,205.4" fill="#000" /></clipPath>
<g clip-path="url(#cb9)">
<polygon points="617.1,130.2 636.0,130.2 638.0,205.4 615.1,205.4" fill="url(#gKO)" />
<rect x="615.1" y="183" width="22.9" height="5" fill="#f68452" opacity="0.55" filter="url(#blur2)"/>
<rect x="615.1" y="191" width="22.9" height="4" fill="#f27458" opacity="0.5" filter="url(#blur2)"/>
<polygon points="613.1,196.5 638.0,182.5 638.0,185.5 613.1,199.5" fill="#f48a56" opacity="0.50" filter="url(#blur2)"/>
<rect x="613.1" y="130.2" width="26.9" height="75.2" fill="url(#pStr)"/>
<rect x="615.1" y="141.2" width="22.9" height="1.2" fill="#1e0c58" opacity="0.30"/>
<rect x="615.1" y="189.6" width="22.9" height="1.2" fill="#1e0c58" opacity="0.29"/>
<rect x="615.1" y="202.0" width="22.9" height="1.8" fill="#1e0c58" opacity="0.19"/>
<rect x="615.1" y="171.3" width="22.9" height="1.2" fill="#1e0c58" opacity="0.12"/>
<rect x="615.1" y="201.3" width="22.9" height="1.8" fill="#1e0c58" opacity="0.23"/>
<rect x="615.1" y="198.7" width="22.9" height="1.5" fill="#1e0c58" opacity="0.29"/>
</g>
<clipPath id="cb10"><polygon points="655.7,130.2 672.1,130.2 674.1,205.4 653.7,205.4" fill="#000" /></clipPath>
<g clip-path="url(#cb10)">
<polygon points="655.7,130.2 672.1,130.2 674.1,205.4 653.7,205.4" fill="url(#gKO)" />
<rect x="653.7" y="183" width="20.4" height="5" fill="#f68452" opacity="0.55" filter="url(#blur2)"/>
<rect x="653.7" y="191" width="20.4" height="4" fill="#f27458" opacity="0.5" filter="url(#blur2)"/>
<polygon points="651.7,196.5 674.1,182.5 674.1,185.5 651.7,199.5" fill="#f48a56" opacity="0.50" filter="url(#blur2)"/>
<rect x="651.7" y="130.2" width="24.4" height="75.2" fill="url(#pStr)"/>
<rect x="653.7" y="191.0" width="20.4" height="1.3" fill="#1e0c58" opacity="0.17"/>
<rect x="653.7" y="153.1" width="20.4" height="1.3" fill="#1e0c58" opacity="0.24"/>
<rect x="653.7" y="150.7" width="20.4" height="1.5" fill="#1e0c58" opacity="0.15"/>
<rect x="653.7" y="197.0" width="20.4" height="1.4" fill="#1e0c58" opacity="0.21"/>
<rect x="653.7" y="173.7" width="20.4" height="2.1" fill="#1e0c58" opacity="0.20"/>
<rect x="653.7" y="197.5" width="20.4" height="1.6" fill="#1e0c58" opacity="0.23"/>
</g>
</g>
<rect x="70.50" y="205.70" width="610.70" height="1.6" fill="#541690"/>
</g>
<rect x="70.50" y="130.20" width="610.70" height="77.70" fill="none" stroke="#000" stroke-width="1.4"/>
<line x1="64.50" y1="207.90" x2="70.50" y2="207.90" stroke="#000" stroke-width="1.4"/>
<text x="57.80" y="214.70" font-size="17.5" text-anchor="end" fill="#1a1a1a" textLength="10.20" lengthAdjust="spacingAndGlyphs" stroke="#1a1a1a" stroke-width="0.25" >0</text>
<line x1="64.50" y1="143.50" x2="70.50" y2="143.50" stroke="#000" stroke-width="1.4"/>
<text x="57.80" y="150.30" font-size="17.5" text-anchor="end" fill="#1a1a1a" textLength="21.00" lengthAdjust="spacingAndGlyphs" stroke="#1a1a1a" stroke-width="0.25" >20</text>
<line x1="70.50" y1="207.90" x2="70.50" y2="213.90" stroke="#000" stroke-width="1.4"/>
<line x1="192.57" y1="207.90" x2="192.57" y2="213.90" stroke="#000" stroke-width="1.4"/>
<line x1="314.65" y1="207.90" x2="314.65" y2="213.90" stroke="#000" stroke-width="1.4"/>
<line x1="436.72" y1="207.90" x2="436.72" y2="213.90" stroke="#000" stroke-width="1.4"/>
<line x1="558.80" y1="207.90" x2="558.80" y2="213.90" stroke="#000" stroke-width="1.4"/>
<text x="74.6" y="146.50" font-size="17.5" font-weight="bold" fill="#fff" textLength="86" lengthAdjust="spacingAndGlyphs"><tspan font-style="italic">OTOF</tspan>-KO</text>
<g>
<rect x="70.50" y="238.10" width="610.70" height="77.60" fill="url(#gBG2)"/>
<rect x="372" y="305" width="32" height="9" fill="#1c1c6a" opacity="0.8" filter="url(#blur2)"/>
<rect x="520" y="305" width="160" height="9" fill="#16205e" opacity="0.55" filter="url(#blur2)"/>
<rect x="70.50" y="238.10" width="610.70" height="77.60" filter="url(#noise)" opacity="0.35"/>
<g filter="url(#blur1)">
<polyline points="83.2,240.0 83.2,313.0" fill="none" stroke="#7a24c0" stroke-width="2.0" stroke-linejoin="round" stroke-linecap="round" />
<polyline points="83.2,274.0 83.6,292.0" fill="none" stroke="#f06a60" stroke-width="2.0" stroke-linejoin="round" stroke-linecap="round" />
<polyline points="85.0,295.0 140.0,293.5" fill="none" stroke="#2c3278" stroke-width="1.6" stroke-linejoin="round" stroke-linecap="round" />
<clipPath id="cb11"><polygon points="104.5,238.1 119.0,238.1 120.0,313.2 103.5,313.2" fill="#000" /></clipPath>
<g clip-path="url(#cb11)">
<polygon points="104.5,238.1 119.0,238.1 120.0,313.2 103.5,313.2" fill="url(#gK3b)" />
<rect x="101.5" y="238.1" width="20.5" height="75.1" fill="url(#pStr)"/>
<rect x="103.5" y="277.3" width="16.5" height="1.0" fill="#1e0c58" opacity="0.21"/>
<rect x="103.5" y="253.1" width="16.5" height="1.0" fill="#1e0c58" opacity="0.28"/>
<rect x="103.5" y="252.4" width="16.5" height="1.6" fill="#1e0c58" opacity="0.27"/>
<rect x="103.5" y="279.7" width="16.5" height="1.4" fill="#1e0c58" opacity="0.22"/>
<rect x="103.5" y="279.6" width="16.5" height="1.9" fill="#1e0c58" opacity="0.14"/>
</g>
<rect x="145" y="252" width="14" height="60" fill="#1a1c54"/>
<polyline points="145.0,262.0 146.2,256.0 147.3,262.0 148.5,256.0 149.7,262.0 150.8,256.0 152.0,262.0" fill="none" stroke="#c040b0" stroke-width="1.2" stroke-linejoin="round" stroke-linecap="round" />
<polyline points="145.0,288.5 146.5,286.5 148.0,287.5 149.5,285.5 151.0,286.0 152.5,284.0 154.0,284.5 155.5,282.0 157.0,281.0 158.3,277.0 159.2,271.0" fill="none" stroke="#f47a5a" stroke-width="1.9" stroke-linejoin="round" stroke-linecap="round" />
<rect x="168.8" y="240.0" width="3.0" height="68.0" fill="#161856" opacity="0.5"/>
<g opacity="0.85">
<polyline points="170.3,255.0 172.1,241.4" fill="none" stroke="#5a1eb0" stroke-width="1.4" stroke-linejoin="round" stroke-linecap="round" />
<polyline points="168.5,268.6 170.3,255.0" fill="none" stroke="#8a2cc0" stroke-width="1.5" stroke-linejoin="round" stroke-linecap="round" />
<polyline points="169.8,291.7 172.5,271.3" fill="none" stroke="#cc4488" stroke-width="1.8" stroke-linejoin="round" stroke-linecap="round" />
<polyline points="170.3,287.6 171.9,275.4" fill="none" stroke="#f07a5c" stroke-width="1.0" stroke-linejoin="round" stroke-linecap="round" />
<polyline points="168.1,304.6 169.6,293.0" fill="none" stroke="#6022b4" stroke-width="1.8" stroke-linejoin="round" stroke-linecap="round" />
</g>
<rect x="177.5" y="240.0" width="3.0" height="68.0" fill="#161856" opacity="0.5"/>
<g opacity="0.85">
<polyline points="179.0,255.0 180.8,241.4" fill="none" stroke="#5a1eb0" stroke-width="1.4" stroke-linejoin="round" stroke-linecap="round" />
<polyline points="177.2,268.6 179.0,255.0" fill="none" stroke="#8a2cc0" stroke-width="1.5" stroke-linejoin="round" stroke-linecap="round" />
<polyline points="178.5,291.7 181.2,271.3" fill="none" stroke="#cc4488" stroke-width="1.8" stroke-linejoin="round" stroke-linecap="round" />
<polyline points="179.0,287.6 180.6,275.4" fill="none" stroke="#f07a5c" stroke-width="1.0" stroke-linejoin="round" stroke-linecap="round" />
<polyline points="176.8,304.6 178.3,293.0" fill="none" stroke="#6022b4" stroke-width="1.8" stroke-linejoin="round" stroke-linecap="round" />
</g>
<rect x="186.1" y="240.0" width="3.0" height="68.0" fill="#161856" opacity="0.5"/>
<g opacity="0.85">
<polyline points="187.6,255.0 189.4,241.4" fill="none" stroke="#5a1eb0" stroke-width="1.4" stroke-linejoin="round" stroke-linecap="round" />
<polyline points="185.8,268.6 187.6,255.0" fill="none" stroke="#8a2cc0" stroke-width="1.5" stroke-linejoin="round" stroke-linecap="round" />
<polyline points="187.1,291.7 189.8,271.3" fill="none" stroke="#cc4488" stroke-width="1.8" stroke-linejoin="round" stroke-linecap="round" />
<polyline points="187.6,287.6 189.2,275.4" fill="none" stroke="#f07a5c" stroke-width="1.0" stroke-linejoin="round" stroke-linecap="round" />
<polyline points="185.4,304.6 186.9,293.0" fill="none" stroke="#6022b4" stroke-width="1.8" stroke-linejoin="round" stroke-linecap="round" />
</g>
<rect x="195.0" y="240.0" width="3.0" height="68.0" fill="#161856" opacity="0.5"/>
<g opacity="0.85">
<polyline points="196.5,255.0 198.3,241.4" fill="none" stroke="#5a1eb0" stroke-width="1.4" stroke-linejoin="round" stroke-linecap="round" />
<polyline points="194.7,268.6 196.5,255.0" fill="none" stroke="#8a2cc0" stroke-width="1.5" stroke-linejoin="round" stroke-linecap="round" />
<polyline points="196.0,291.7 198.7,271.3" fill="none" stroke="#cc4488" stroke-width="1.8" stroke-linejoin="round" stroke-linecap="round" />
<polyline points="196.5,287.6 198.1,275.4" fill="none" stroke="#f07a5c" stroke-width="1.0" stroke-linejoin="round" stroke-linecap="round" />
<polyline points="194.3,304.6 195.8,293.0" fill="none" stroke="#6022b4" stroke-width="1.8" stroke-linejoin="round" stroke-linecap="round" />
</g>
<rect x="204.3" y="240.0" width="3.0" height="68.0" fill="#161856" opacity="0.5"/>
<g opacity="0.85">
<polyline points="205.8,255.0 207.6,241.4" fill="none" stroke="#5a1eb0" stroke-width="1.4" stroke-linejoin="round" stroke-linecap="round" />
<polyline points="204.0,268.6 205.8,255.0" fill="none" stroke="#8a2cc0" stroke-width="1.5" stroke-linejoin="round" stroke-linecap="round" />
<polyline points="205.3,291.7 208.0,271.3" fill="none" stroke="#cc4488" stroke-width="1.8" stroke-linejoin="round" stroke-linecap="round" />
<polyline points="205.8,287.6 207.4,275.4" fill="none" stroke="#f07a5c" stroke-width="1.0" stroke-linejoin="round" stroke-linecap="round" />
<polyline points="203.6,304.6 205.1,293.0" fill="none" stroke="#6022b4" stroke-width="1.8" stroke-linejoin="round" stroke-linecap="round" />
</g>
<polygon points="221.0,256.5 223.5,246.0 228.0,246.0 226.0,256.5" fill="#5a2aa8" />
<rect x="497" y="250" width="10" height="60" fill="#1c1a58" opacity="0.8" filter="url(#blur2)"/>
<polyline points="496.0,294.0 501.0,291.0 504.5,286.0 507.5,293.0" fill="none" stroke="#e85a70" stroke-width="1.9" stroke-linejoin="round" stroke-linecap="round" />
<polyline points="495.0,273.0 500.0,267.0 504.0,258.0 507.5,270.0" fill="none" stroke="#b83ab0" stroke-width="1.5" stroke-linejoin="round" stroke-linecap="round" />
<polyline points="496.0,252.0 500.0,246.0 503.5,239.0" fill="none" stroke="#8a2cc0" stroke-width="1.3" stroke-linejoin="round" stroke-linecap="round" />
<clipPath id="cb12"><polygon points="242.5,238.1 258.5,238.1 258.5,313.2 241.5,313.2" fill="#000" /></clipPath>
<g clip-path="url(#cb12)">
<polygon points="242.5,238.1 258.5,238.1 258.5,313.2 241.5,313.2" fill="url(#gK3)" />
<polygon points="239.5,294.0 260.5,282.0 260.5,290.0 239.5,302.0" fill="#f07a52" opacity="0.80" filter="url(#blur2)"/>
<polygon points="239.5,276.8 260.5,257.8 260.5,262.2 239.5,281.2" fill="#d24c8a" opacity="0.75" filter="url(#blur2)"/>
<polygon points="241.5,258.2 258.5,241.2 258.5,244.8 241.5,261.8" fill="#a236c0" opacity="0.70" filter="url(#blur2)"/>
<rect x="239.5" y="238.1" width="21.0" height="75.1" fill="url(#pStr)"/>
<rect x="241.5" y="279.9" width="17.0" height="1.3" fill="#1e0c58" opacity="0.18"/>
<rect x="241.5" y="295.0" width="17.0" height="1.6" fill="#1e0c58" opacity="0.23"/>
<rect x="241.5" y="294.1" width="17.0" height="2.1" fill="#1e0c58" opacity="0.21"/>
<rect x="241.5" y="283.7" width="17.0" height="1.6" fill="#1e0c58" opacity="0.22"/>
<rect x="241.5" y="289.4" width="17.0" height="1.5" fill="#1e0c58" opacity="0.23"/>
</g>
<clipPath id="cb13"><polygon points="274.3,238.1 290.1,238.1 290.1,313.2 273.3,313.2" fill="#000" /></clipPath>
<g clip-path="url(#cb13)">
<polygon points="274.3,238.1 290.1,238.1 290.1,313.2 273.3,313.2" fill="url(#gK3)" />
<polygon points="271.3,294.0 292.1,282.0 292.1,290.0 271.3,302.0" fill="#f07a52" opacity="0.80" filter="url(#blur2)"/>
<polygon points="271.3,276.8 292.1,257.8 292.1,262.2 271.3,281.2" fill="#d24c8a" opacity="0.75" filter="url(#blur2)"/>
<polygon points="273.3,258.2 290.1,241.2 290.1,244.8 273.3,261.8" fill="#a236c0" opacity="0.70" filter="url(#blur2)"/>
<rect x="271.3" y="238.1" width="20.8" height="75.1" fill="url(#pStr)"/>
<rect x="273.3" y="274.1" width="16.8" height="2.1" fill="#1e0c58" opacity="0.26"/>
<rect x="273.3" y="302.4" width="16.8" height="2.1" fill="#1e0c58" opacity="0.17"/>
<rect x="273.3" y="279.9" width="16.8" height="2.1" fill="#1e0c58" opacity="0.29"/>
<rect x="273.3" y="249.9" width="16.8" height="1.1" fill="#1e0c58" opacity="0.21"/>
<rect x="273.3" y="245.3" width="16.8" height="1.3" fill="#1e0c58" opacity="0.13"/>
</g>
<clipPath id="cb14"><polygon points="309.8,238.1 325.1,238.1 325.1,313.2 308.8,313.2" fill="#000" /></clipPath>
<g clip-path="url(#cb14)">
<polygon points="309.8,238.1 325.1,238.1 325.1,313.2 308.8,313.2" fill="url(#gK3)" />
<polygon points="306.8,294.0 327.1,282.0 327.1,290.0 306.8,302.0" fill="#f07a52" opacity="0.80" filter="url(#blur2)"/>
<polygon points="306.8,276.8 327.1,257.8 327.1,262.2 306.8,281.2" fill="#d24c8a" opacity="0.75" filter="url(#blur2)"/>
<polygon points="308.8,258.2 325.1,241.2 325.1,244.8 308.8,261.8" fill="#a236c0" opacity="0.70" filter="url(#blur2)"/>
<rect x="306.8" y="238.1" width="20.3" height="75.1" fill="url(#pStr)"/>
<rect x="308.8" y="287.7" width="16.3" height="1.9" fill="#1e0c58" opacity="0.30"/>
<rect x="308.8" y="251.1" width="16.3" height="1.9" fill="#1e0c58" opacity="0.25"/>
<rect x="308.8" y="250.3" width="16.3" height="2.1" fill="#1e0c58" opacity="0.31"/>
<rect x="308.8" y="255.7" width="16.3" height="2.1" fill="#1e0c58" opacity="0.20"/>
<rect x="308.8" y="274.7" width="16.3" height="2.2" fill="#1e0c58" opacity="0.29"/>
</g>
<clipPath id="cb15"><polygon points="355.3,238.1 370.7,238.1 370.7,313.2 354.3,313.2" fill="#000" /></clipPath>
<g clip-path="url(#cb15)">
<polygon points="355.3,238.1 370.7,238.1 370.7,313.2 354.3,313.2" fill="url(#gK3)" />
<polygon points="352.3,294.0 372.7,282.0 372.7,290.0 352.3,302.0" fill="#f07a52" opacity="0.80" filter="url(#blur2)"/>
<polygon points="352.3,276.8 372.7,257.8 372.7,262.2 352.3,281.2" fill="#d24c8a" opacity="0.75" filter="url(#blur2)"/>
<polygon points="354.3,258.2 370.7,241.2 370.7,244.8 354.3,261.8" fill="#a236c0" opacity="0.70" filter="url(#blur2)"/>
<rect x="352.3" y="238.1" width="20.4" height="75.1" fill="url(#pStr)"/>
<rect x="354.3" y="251.6" width="16.4" height="1.5" fill="#1e0c58" opacity="0.22"/>
<rect x="354.3" y="264.2" width="16.4" height="1.2" fill="#1e0c58" opacity="0.18"/>
<rect x="354.3" y="291.4" width="16.4" height="1.0" fill="#1e0c58" opacity="0.23"/>
<rect x="354.3" y="271.4" width="16.4" height="1.0" fill="#1e0c58" opacity="0.19"/>
<rect x="354.3" y="284.5" width="16.4" height="1.6" fill="#1e0c58" opacity="0.13"/>
</g>
<clipPath id="cb16"><polygon points="403.7,238.1 417.9,238.1 417.9,313.2 402.7,313.2" fill="#000" /></clipPath>
<g clip-path="url(#cb16)">
<polygon points="403.7,238.1 417.9,238.1 417.9,313.2 402.7,313.2" fill="url(#gK3)" />
<polygon points="400.7,294.0 419.9,282.0 419.9,290.0 400.7,302.0" fill="#f07a52" opacity="0.80" filter="url(#blur2)"/>
<polygon points="400.7,276.8 419.9,257.8 419.9,262.2 400.7,281.2" fill="#d24c8a" opacity="0.75" filter="url(#blur2)"/>
<polygon points="402.7,258.2 417.9,241.2 417.9,244.8 402.7,261.8" fill="#a236c0" opacity="0.70" filter="url(#blur2)"/>
<rect x="400.7" y="238.1" width="19.2" height="75.1" fill="url(#pStr)"/>
<rect x="402.7" y="310.1" width="15.2" height="1.9" fill="#1e0c58" opacity="0.31"/>
<rect x="402.7" y="247.5" width="15.2" height="1.3" fill="#1e0c58" opacity="0.13"/>
<rect x="402.7" y="295.5" width="15.2" height="1.3" fill="#1e0c58" opacity="0.15"/>
<rect x="402.7" y="270.1" width="15.2" height="2.1" fill="#1e0c58" opacity="0.28"/>
<rect x="402.7" y="258.5" width="15.2" height="1.2" fill="#1e0c58" opacity="0.30"/>
</g>
<clipPath id="cb17"><polygon points="451.6,238.1 469.3,238.1 469.3,313.2 450.6,313.2" fill="#000" /></clipPath>
<g clip-path="url(#cb17)">
<polygon points="451.6,238.1 469.3,238.1 469.3,313.2 450.6,313.2" fill="url(#gK3)" />
<polygon points="448.6,294.0 471.3,282.0 471.3,290.0 448.6,302.0" fill="#f07a52" opacity="0.80" filter="url(#blur2)"/>
<polygon points="448.6,276.8 471.3,257.8 471.3,262.2 448.6,281.2" fill="#d24c8a" opacity="0.75" filter="url(#blur2)"/>
<polygon points="450.6,258.2 469.3,241.2 469.3,244.8 450.6,261.8" fill="#a236c0" opacity="0.70" filter="url(#blur2)"/>
<rect x="448.6" y="238.1" width="22.7" height="75.1" fill="url(#pStr)"/>
<rect x="450.6" y="280.7" width="18.7" height="1.8" fill="#1e0c58" opacity="0.14"/>
<rect x="450.6" y="244.2" width="18.7" height="1.8" fill="#1e0c58" opacity="0.21"/>
<rect x="450.6" y="245.2" width="18.7" height="2.1" fill="#1e0c58" opacity="0.25"/>
<rect x="450.6" y="297.1" width="18.7" height="1.1" fill="#1e0c58" opacity="0.29"/>
<rect x="450.6" y="244.8" width="18.7" height="2.0" fill="#1e0c58" opacity="0.21"/>
</g>
<clipPath id="cb18"><polygon points="492.0,238.1 499.5,238.1 499.5,313.2 491.0,313.2" fill="#000" /></clipPath>
<g clip-path="url(#cb18)">
<polygon points="492.0,238.1 499.5,238.1 499.5,313.2 491.0,313.2" fill="url(#gK3)" />
<polygon points="489.0,294.0 501.5,282.0 501.5,290.0 489.0,302.0" fill="#f07a52" opacity="0.80" filter="url(#blur2)"/>
<polygon points="489.0,276.8 501.5,257.8 501.5,262.2 489.0,281.2" fill="#d24c8a" opacity="0.75" filter="url(#blur2)"/>
<polygon points="491.0,258.2 499.5,241.2 499.5,244.8 491.0,261.8" fill="#a236c0" opacity="0.70" filter="url(#blur2)"/>
<rect x="489.0" y="238.1" width="12.5" height="75.1" fill="url(#pStr)"/>
<rect x="491.0" y="264.2" width="8.5" height="1.7" fill="#1e0c58" opacity="0.31"/>
<rect x="491.0" y="259.1" width="8.5" height="1.2" fill="#1e0c58" opacity="0.23"/>
<rect x="491.0" y="257.1" width="8.5" height="1.1" fill="#1e0c58" opacity="0.15"/>
<rect x="491.0" y="243.7" width="8.5" height="1.2" fill="#1e0c58" opacity="0.18"/>
<rect x="491.0" y="261.8" width="8.5" height="1.9" fill="#1e0c58" opacity="0.18"/>
</g>
<rect x="535.1" y="262.4" width="23.8" height="41.3" fill="url(#gPh)"/>
<rect x="536.1" y="276.1" width="21.8" height="10.0" fill="#5a22b0" opacity="0.6" filter="url(#blur2)"/>
<rect x="536.1" y="289.1" width="21.8" height="5.0" fill="#3a1e90" opacity="0.45" filter="url(#blur2)"/>
<rect x="535.1" y="283.1" width="23.8" height="1.1" fill="#3a2a90" opacity="0.29"/>
<rect x="535.1" y="277.3" width="23.8" height="1.1" fill="#3a2a90" opacity="0.25"/>
<rect x="535.1" y="273.7" width="23.8" height="1.1" fill="#3a2a90" opacity="0.25"/>
<rect x="535.1" y="291.7" width="23.8" height="1.1" fill="#3a2a90" opacity="0.39"/>
<rect x="535.1" y="271.5" width="23.8" height="1.1" fill="#3a2a90" opacity="0.37"/>
<path d="M535.1,260.4 Q547.0,257.3 557.7,253.6 L558.9,256.1" fill="none" stroke="#8a26c0" stroke-width="2.2" filter="url(#glow)"/>
<path d="M535.1,260.4 Q547.0,257.3 557.7,253.6 L558.9,256.1" fill="none" stroke="#b63cbc" stroke-width="1.1"/>
<path d="M535.1,288.2 Q547.0,286.1 557.7,284.1 L558.9,286.1" fill="none" stroke="#b83498" stroke-width="4.0" filter="url(#glow)"/>
<path d="M535.1,288.2 Q547.0,286.1 557.7,284.1 L558.9,286.1" fill="none" stroke="#f27260" stroke-width="1.9"/>
<rect x="575.6" y="265.0" width="21.1" height="38.7" fill="url(#gPh)"/>
<rect x="576.6" y="276.4" width="19.1" height="10.0" fill="#5a22b0" opacity="0.6" filter="url(#blur2)"/>
<rect x="576.6" y="289.4" width="19.1" height="5.0" fill="#3a1e90" opacity="0.45" filter="url(#blur2)"/>
<rect x="575.6" y="299.4" width="21.1" height="1.1" fill="#3a2a90" opacity="0.28"/>
<rect x="575.6" y="295.4" width="21.1" height="1.1" fill="#3a2a90" opacity="0.36"/>
<rect x="575.6" y="284.2" width="21.1" height="1.1" fill="#3a2a90" opacity="0.46"/>
<rect x="575.6" y="280.6" width="21.1" height="1.1" fill="#3a2a90" opacity="0.38"/>
<rect x="575.6" y="290.9" width="21.1" height="1.1" fill="#3a2a90" opacity="0.50"/>
<path d="M575.6,263.0 Q586.2,257.8 595.5,251.4 L596.7,253.9" fill="none" stroke="#8a26c0" stroke-width="2.2" filter="url(#glow)"/>
<path d="M575.6,263.0 Q586.2,257.8 595.5,251.4 L596.7,253.9" fill="none" stroke="#b63cbc" stroke-width="1.1"/>
<path d="M575.6,289.5 Q586.2,286.4 595.5,283.3 L596.7,285.3" fill="none" stroke="#b83498" stroke-width="4.0" filter="url(#glow)"/>
<path d="M575.6,289.5 Q586.2,286.4 595.5,283.3 L596.7,285.3" fill="none" stroke="#f27260" stroke-width="1.9"/>
<rect x="613.4" y="265.9" width="21.6" height="37.8" fill="url(#gPh)"/>
<rect x="614.4" y="276.4" width="19.6" height="10.0" fill="#5a22b0" opacity="0.6" filter="url(#blur2)"/>
<rect x="614.4" y="289.4" width="19.6" height="5.0" fill="#3a1e90" opacity="0.45" filter="url(#blur2)"/>
<rect x="613.4" y="279.5" width="21.6" height="1.1" fill="#3a2a90" opacity="0.46"/>
<rect x="613.4" y="291.8" width="21.6" height="1.1" fill="#3a2a90" opacity="0.41"/>
<rect x="613.4" y="281.6" width="21.6" height="1.1" fill="#3a2a90" opacity="0.34"/>
<rect x="613.4" y="269.7" width="21.6" height="1.1" fill="#3a2a90" opacity="0.28"/>
<rect x="613.4" y="270.3" width="21.6" height="1.1" fill="#3a2a90" opacity="0.44"/>
<path d="M613.4,263.9 Q624.2,257.8 633.8,250.4 L635.0,252.9" fill="none" stroke="#8a26c0" stroke-width="2.2" filter="url(#glow)"/>
<path d="M613.4,263.9 Q624.2,257.8 633.8,250.4 L635.0,252.9" fill="none" stroke="#b63cbc" stroke-width="1.1"/>
<path d="M613.4,289.5 Q624.2,286.4 633.8,283.3 L635.0,285.3" fill="none" stroke="#b83498" stroke-width="4.0" filter="url(#glow)"/>
<path d="M613.4,289.5 Q624.2,286.4 633.8,283.3 L635.0,285.3" fill="none" stroke="#f27260" stroke-width="1.9"/>
<rect x="651.2" y="266.4" width="21.1" height="37.3" fill="url(#gPh)"/>
<rect x="652.2" y="276.4" width="19.1" height="10.0" fill="#5a22b0" opacity="0.6" filter="url(#blur2)"/>
<rect x="652.2" y="289.4" width="19.1" height="5.0" fill="#3a1e90" opacity="0.45" filter="url(#blur2)"/>
<rect x="651.2" y="276.9" width="21.1" height="1.1" fill="#3a2a90" opacity="0.29"/>
<rect x="651.2" y="271.2" width="21.1" height="1.1" fill="#3a2a90" opacity="0.46"/>
<rect x="651.2" y="297.4" width="21.1" height="1.1" fill="#3a2a90" opacity="0.42"/>
<rect x="651.2" y="277.8" width="21.1" height="1.1" fill="#3a2a90" opacity="0.31"/>
<rect x="651.2" y="278.2" width="21.1" height="1.1" fill="#3a2a90" opacity="0.36"/>
<path d="M651.2,264.4 Q661.8,258.3 671.1,250.9 L672.3,253.4" fill="none" stroke="#8a26c0" stroke-width="2.2" filter="url(#glow)"/>
<path d="M651.2,264.4 Q661.8,258.3 671.1,250.9 L672.3,253.4" fill="none" stroke="#b63cbc" stroke-width="1.1"/>
<path d="M651.2,290.0 Q661.8,286.4 671.1,282.8 L672.3,284.8" fill="none" stroke="#b83498" stroke-width="4.0" filter="url(#glow)"/>
<path d="M651.2,290.0 Q661.8,286.4 671.1,282.8 L672.3,284.8" fill="none" stroke="#f27260" stroke-width="1.9"/>
</g>
<rect x="70.50" y="313.50" width="610.70" height="1.6" fill="#541690"/>
</g>
<rect x="70.50" y="238.10" width="610.70" height="77.60" fill="none" stroke="#000" stroke-width="1.4"/>
<line x1="64.50" y1="315.70" x2="70.50" y2="315.70" stroke="#000" stroke-width="1.4"/>
<text x="57.80" y="322.50" font-size="17.5" text-anchor="end" fill="#1a1a1a" textLength="10.20" lengthAdjust="spacingAndGlyphs" stroke="#1a1a1a" stroke-width="0.25" >0</text>
<line x1="64.50" y1="251.30" x2="70.50" y2="251.30" stroke="#000" stroke-width="1.4"/>
<text x="57.80" y="258.10" font-size="17.5" text-anchor="end" fill="#1a1a1a" textLength="21.00" lengthAdjust="spacingAndGlyphs" stroke="#1a1a1a" stroke-width="0.25" >20</text>
<line x1="70.50" y1="315.70" x2="70.50" y2="321.70" stroke="#000" stroke-width="1.4"/>
<text x="70.50" y="341.40" font-size="17.5" text-anchor="middle" fill="#1a1a1a" stroke="#1a1a1a" stroke-width="0.25" >0</text>
<line x1="192.57" y1="315.70" x2="192.57" y2="321.70" stroke="#000" stroke-width="1.4"/>
<text x="192.57" y="341.40" font-size="17.5" text-anchor="middle" fill="#1a1a1a" stroke="#1a1a1a" stroke-width="0.25" >2</text>
<line x1="314.65" y1="315.70" x2="314.65" y2="321.70" stroke="#000" stroke-width="1.4"/>
<text x="314.65" y="341.40" font-size="17.5" text-anchor="middle" fill="#1a1a1a" stroke="#1a1a1a" stroke-width="0.25" >4</text>
<line x1="436.72" y1="315.70" x2="436.72" y2="321.70" stroke="#000" stroke-width="1.4"/>
<text x="436.72" y="341.40" font-size="17.5" text-anchor="middle" fill="#1a1a1a" stroke="#1a1a1a" stroke-width="0.25" >6</text>
<line x1="558.80" y1="315.70" x2="558.80" y2="321.70" stroke="#000" stroke-width="1.4"/>
<text x="558.80" y="341.40" font-size="17.5" text-anchor="middle" fill="#1a1a1a" stroke="#1a1a1a" stroke-width="0.25" >8</text>
<text x="74.6" y="254.40" font-size="17.5" font-weight="bold" fill="#fff" textLength="86" lengthAdjust="spacingAndGlyphs"><tspan font-style="italic">OTOF</tspan>-KO</text>
<text x="340.00" y="366.30" font-size="18.5" text-anchor="start" fill="#1a1a1a" textLength="71.00" lengthAdjust="spacingAndGlyphs" stroke="#1a1a1a" stroke-width="0.25" >time [s]</text>
<text x="23.80" y="173.30" font-size="18.5" text-anchor="middle" fill="#1a1a1a" textLength="151.00" lengthAdjust="spacingAndGlyphs" transform="rotate(-90 23.80 173.30)" stroke="#1a1a1a" stroke-width="0.25" >frequency [kHz]</text>
<line x1="73.80" y1="401.50" x2="73.80" y2="675.00" stroke="#111" stroke-width="1.4"/>
<line x1="66.00" y1="674.40" x2="73.80" y2="674.40" stroke="#111" stroke-width="1.4"/>
<text x="58.40" y="680.60" font-size="16.3" text-anchor="end" fill="#1a1a1a" textLength="24.00" lengthAdjust="spacingAndGlyphs" stroke="#1a1a1a" stroke-width="0.25" >0.0</text>
<line x1="66.00" y1="630.67" x2="73.80" y2="630.67" stroke="#111" stroke-width="1.4"/>
<text x="58.40" y="636.87" font-size="16.3" text-anchor="end" fill="#1a1a1a" textLength="24.00" lengthAdjust="spacingAndGlyphs" stroke="#1a1a1a" stroke-width="0.25" >0.5</text>
<line x1="66.00" y1="586.93" x2="73.80" y2="586.93" stroke="#111" stroke-width="1.4"/>
<text x="58.40" y="593.13" font-size="16.3" text-anchor="end" fill="#1a1a1a" textLength="24.00" lengthAdjust="spacingAndGlyphs" stroke="#1a1a1a" stroke-width="0.25" >1.0</text>
<line x1="66.00" y1="543.20" x2="73.80" y2="543.20" stroke="#111" stroke-width="1.4"/>
<text x="58.40" y="549.40" font-size="16.3" text-anchor="end" fill="#1a1a1a" textLength="24.00" lengthAdjust="spacingAndGlyphs" stroke="#1a1a1a" stroke-width="0.25" >1.5</text>
<line x1="66.00" y1="499.47" x2="73.80" y2="499.47" stroke="#111" stroke-width="1.4"/>
<text x="58.40" y="505.67" font-size="16.3" text-anchor="end" fill="#1a1a1a" textLength="24.00" lengthAdjust="spacingAndGlyphs" stroke="#1a1a1a" stroke-width="0.25" >2.0</text>
<line x1="66.00" y1="455.73" x2="73.80" y2="455.73" stroke="#111" stroke-width="1.4"/>
<text x="58.40" y="461.93" font-size="16.3" text-anchor="end" fill="#1a1a1a" textLength="24.00" lengthAdjust="spacingAndGlyphs" stroke="#1a1a1a" stroke-width="0.25" >2.5</text>
<line x1="66.00" y1="412.00" x2="73.80" y2="412.00" stroke="#111" stroke-width="1.4"/>
<text x="58.40" y="418.20" font-size="16.3" text-anchor="end" fill="#1a1a1a" textLength="24.00" lengthAdjust="spacingAndGlyphs" stroke="#1a1a1a" stroke-width="0.25" >3.0</text>
<line x1="82.70" y1="683.50" x2="250.60" y2="683.50" stroke="#111" stroke-width="1.4"/>
<line x1="97.00" y1="683.50" x2="97.00" y2="691.00" stroke="#111" stroke-width="1.4"/>
<text x="97.00" y="710.70" font-size="16.3" text-anchor="middle" fill="#1a1a1a" textLength="9.40" lengthAdjust="spacingAndGlyphs" stroke="#1a1a1a" stroke-width="0.25" >2</text>
<line x1="124.80" y1="683.50" x2="124.80" y2="691.00" stroke="#111" stroke-width="1.4"/>
<text x="124.80" y="710.70" font-size="16.3" text-anchor="middle" fill="#1a1a1a" textLength="9.40" lengthAdjust="spacingAndGlyphs" stroke="#1a1a1a" stroke-width="0.25" >3</text>
<line x1="152.60" y1="683.50" x2="152.60" y2="691.00" stroke="#111" stroke-width="1.4"/>
<text x="152.60" y="710.70" font-size="16.3" text-anchor="middle" fill="#1a1a1a" textLength="9.40" lengthAdjust="spacingAndGlyphs" stroke="#1a1a1a" stroke-width="0.25" >4</text>
<line x1="180.40" y1="683.50" x2="180.40" y2="691.00" stroke="#111" stroke-width="1.4"/>
<text x="180.40" y="710.70" font-size="16.3" text-anchor="middle" fill="#1a1a1a" textLength="9.40" lengthAdjust="spacingAndGlyphs" stroke="#1a1a1a" stroke-width="0.25" >5</text>
<line x1="208.20" y1="683.50" x2="208.20" y2="691.00" stroke="#111" stroke-width="1.4"/>
<text x="208.20" y="710.70" font-size="16.3" text-anchor="middle" fill="#1a1a1a" textLength="9.40" lengthAdjust="spacingAndGlyphs" stroke="#1a1a1a" stroke-width="0.25" >6</text>
<line x1="236.00" y1="683.50" x2="236.00" y2="691.00" stroke="#111" stroke-width="1.4"/>
<text x="236.00" y="710.70" font-size="16.3" text-anchor="middle" fill="#1a1a1a" textLength="9.40" lengthAdjust="spacingAndGlyphs" stroke="#1a1a1a" stroke-width="0.25" >8</text>
<text x="166.70" y="734.30" font-size="17.2" text-anchor="middle" fill="#1a1a1a" textLength="58.50" lengthAdjust="spacingAndGlyphs" stroke="#1a1a1a" stroke-width="0.25" >Animal</text>
<text x="23.60" y="539.00" font-size="17.5" text-anchor="middle" fill="#1a1a1a" textLength="120.00" lengthAdjust="spacingAndGlyphs" transform="rotate(-90 23.60 539.00)" stroke="#1a1a1a" stroke-width="0.25" >Call rate [1/s]</text>
<circle cx="96.1" cy="460.1" r="4.6" fill="#000"/>
<circle cx="95.4" cy="504.7" r="4.6" fill="#000"/>
<circle cx="97.9" cy="506.7" r="4.6" fill="#000"/>
<circle cx="125.9" cy="465.8" r="4.6" fill="#000"/>
<circle cx="124.7" cy="472.0" r="4.6" fill="#000"/>
<circle cx="151.5" cy="432.3" r="4.6" fill="#000"/>
<circle cx="154.0" cy="475.7" r="4.6" fill="#000"/>
<circle cx="153.7" cy="479.9" r="4.6" fill="#000"/>
<circle cx="206.1" cy="514.2" r="4.6" fill="#000"/>
<circle cx="208.3" cy="523.4" r="4.6" fill="#000"/>
<circle cx="234.6" cy="409.9" r="4.6" fill="#dc7d28"/>
<circle cx="181.8" cy="458.6" r="4.6" fill="#dc7d28"/>
<circle cx="237.1" cy="457.6" r="4.6" fill="#dc7d28"/>
<circle cx="179.3" cy="532.5" r="4.6" fill="#dc7d28"/>
<circle cx="235.6" cy="535.5" r="4.6" fill="#dc7d28"/>
<circle cx="178.6" cy="564.4" r="4.6" fill="#dc7d28"/>
<rect x="88.3" y="637.5" width="80.8" height="31.8" rx="2.5" fill="#fff" fill-opacity="0.8" stroke="#d4d4d4" stroke-width="1"/>
<circle cx="102.1" cy="645.3" r="4.6" fill="#dc7d28"/>
<circle cx="102.1" cy="660.0" r="4.6" fill="#000"/>
<text x="120.00" y="649.40" font-size="10.4" text-anchor="start" fill="#333" textLength="46.50" lengthAdjust="spacingAndGlyphs" >OTOF-KO</text>
<text x="120.00" y="664.00" font-size="10.4" text-anchor="start" fill="#333" textLength="15.60" lengthAdjust="spacingAndGlyphs" >WT</text>
<line x1="339.20" y1="401.50" x2="339.20" y2="675.20" stroke="#111" stroke-width="1.4"/>
<line x1="330.00" y1="674.60" x2="339.20" y2="674.60" stroke="#111" stroke-width="1.4"/>
<text x="323.90" y="680.80" font-size="16.3" text-anchor="end" fill="#1a1a1a" textLength="9.60" lengthAdjust="spacingAndGlyphs" stroke="#1a1a1a" stroke-width="0.25" >0</text>
<line x1="330.00" y1="622.88" x2="339.20" y2="622.88" stroke="#111" stroke-width="1.4"/>
<text x="323.90" y="629.08" font-size="16.3" text-anchor="end" fill="#1a1a1a" textLength="20.00" lengthAdjust="spacingAndGlyphs" stroke="#1a1a1a" stroke-width="0.25" >20</text>
<line x1="330.00" y1="571.16" x2="339.20" y2="571.16" stroke="#111" stroke-width="1.4"/>
<text x="323.90" y="577.36" font-size="16.3" text-anchor="end" fill="#1a1a1a" textLength="20.00" lengthAdjust="spacingAndGlyphs" stroke="#1a1a1a" stroke-width="0.25" >40</text>
<line x1="330.00" y1="519.44" x2="339.20" y2="519.44" stroke="#111" stroke-width="1.4"/>
<text x="323.90" y="525.64" font-size="16.3" text-anchor="end" fill="#1a1a1a" textLength="20.00" lengthAdjust="spacingAndGlyphs" stroke="#1a1a1a" stroke-width="0.25" >60</text>
<line x1="330.00" y1="467.72" x2="339.20" y2="467.72" stroke="#111" stroke-width="1.4"/>
<text x="323.90" y="473.92" font-size="16.3" text-anchor="end" fill="#1a1a1a" textLength="20.00" lengthAdjust="spacingAndGlyphs" stroke="#1a1a1a" stroke-width="0.25" >80</text>
<line x1="330.00" y1="416.00" x2="339.20" y2="416.00" stroke="#111" stroke-width="1.4"/>
<text x="323.90" y="422.20" font-size="16.3" text-anchor="end" fill="#1a1a1a" textLength="28.60" lengthAdjust="spacingAndGlyphs" stroke="#1a1a1a" stroke-width="0.25" >100</text>
<line x1="346.50" y1="683.60" x2="676.40" y2="683.60" stroke="#111" stroke-width="1.4"/>
<line x1="375.60" y1="683.60" x2="375.60" y2="691.00" stroke="#111" stroke-width="1.4"/>
<text x="375.60" y="711.00" font-size="16.3" text-anchor="middle" fill="#1a1a1a" textLength="9.40" lengthAdjust="spacingAndGlyphs" stroke="#1a1a1a" stroke-width="0.25" >2</text>
<line x1="431.10" y1="683.60" x2="431.10" y2="691.00" stroke="#111" stroke-width="1.4"/>
<text x="431.10" y="711.00" font-size="16.3" text-anchor="middle" fill="#1a1a1a" textLength="9.40" lengthAdjust="spacingAndGlyphs" stroke="#1a1a1a" stroke-width="0.25" >3</text>
<line x1="486.80" y1="683.60" x2="486.80" y2="691.00" stroke="#111" stroke-width="1.4"/>
<text x="486.80" y="711.00" font-size="16.3" text-anchor="middle" fill="#1a1a1a" textLength="9.40" lengthAdjust="spacingAndGlyphs" stroke="#1a1a1a" stroke-width="0.25" >4</text>
<line x1="542.40" y1="683.60" x2="542.40" y2="691.00" stroke="#111" stroke-width="1.4"/>
<text x="542.40" y="711.00" font-size="16.3" text-anchor="middle" fill="#1a1a1a" textLength="9.40" lengthAdjust="spacingAndGlyphs" stroke="#1a1a1a" stroke-width="0.25" >5</text>
<line x1="598.10" y1="683.60" x2="598.10" y2="691.00" stroke="#111" stroke-width="1.4"/>
<text x="598.10" y="711.00" font-size="16.3" text-anchor="middle" fill="#1a1a1a" textLength="9.40" lengthAdjust="spacingAndGlyphs" stroke="#1a1a1a" stroke-width="0.25" >6</text>
<line x1="653.80" y1="683.60" x2="653.80" y2="691.00" stroke="#111" stroke-width="1.4"/>
<text x="653.80" y="711.00" font-size="16.3" text-anchor="middle" fill="#1a1a1a" textLength="9.40" lengthAdjust="spacingAndGlyphs" stroke="#1a1a1a" stroke-width="0.25" >8</text>
<text x="515.00" y="734.30" font-size="17.2" text-anchor="middle" fill="#1a1a1a" textLength="58.50" lengthAdjust="spacingAndGlyphs" stroke="#1a1a1a" stroke-width="0.25" >Animal</text>
<text x="282.40" y="538.40" font-size="17.5" text-anchor="middle" fill="#1a1a1a" textLength="103.50" lengthAdjust="spacingAndGlyphs" transform="rotate(-90 282.40 538.40)" stroke="#1a1a1a" stroke-width="0.25" >Percent [%]</text>
<rect x="361.70" y="662.80" width="27.80" height="11.80" fill="#3f7fba"/>
<rect x="361.70" y="635.70" width="27.80" height="27.10" fill="#f08026"/>
<rect x="361.70" y="634.50" width="27.80" height="1.20" fill="#9c72c6"/>
<rect x="361.70" y="626.00" width="27.80" height="8.50" fill="#8f5a50"/>
<rect x="361.70" y="610.70" width="27.80" height="15.30" fill="#e079d0"/>
<rect x="361.70" y="596.10" width="27.80" height="14.60" fill="#808080"/>
<rect x="361.70" y="583.10" width="27.80" height="13.00" fill="#bcc23a"/>
<rect x="361.70" y="574.90" width="27.80" height="8.20" fill="#5fd3d8"/>
<rect x="361.70" y="416.00" width="27.80" height="158.90" fill="#a9e3e7"/>
<rect x="417.20" y="672.80" width="27.80" height="1.80" fill="#3f7fba"/>
<rect x="417.20" y="671.50" width="27.80" height="1.30" fill="#f08026"/>
<rect x="417.20" y="670.50" width="27.80" height="1.00" fill="#3cae3c"/>
<rect x="417.20" y="669.50" width="27.80" height="1.00" fill="#d93a3a"/>
<rect x="417.20" y="665.90" width="27.80" height="3.60" fill="#9c72c6"/>
<rect x="417.20" y="648.20" width="27.80" height="17.70" fill="#8f5a50"/>
<rect x="417.20" y="613.30" width="27.80" height="34.90" fill="#e079d0"/>
<rect x="417.20" y="606.20" width="27.80" height="7.10" fill="#808080"/>
<rect x="417.20" y="599.70" width="27.80" height="6.50" fill="#bcc23a"/>
<rect x="417.20" y="585.20" width="27.80" height="14.50" fill="#5fd3d8"/>
<rect x="417.20" y="416.00" width="27.80" height="169.20" fill="#a9e3e7"/>
<rect x="472.90" y="673.40" width="27.80" height="1.20" fill="#3cae3c"/>
<rect x="472.90" y="671.30" width="27.80" height="2.10" fill="#d93a3a"/>
<rect x="472.90" y="663.80" width="27.80" height="7.50" fill="#8f5a50"/>
<rect x="472.90" y="624.40" width="27.80" height="39.40" fill="#e079d0"/>
<rect x="472.90" y="619.00" width="27.80" height="5.40" fill="#808080"/>
<rect x="472.90" y="614.80" width="27.80" height="4.20" fill="#bcc23a"/>
<rect x="472.90" y="606.00" width="27.80" height="8.80" fill="#5fd3d8"/>
<rect x="472.90" y="416.00" width="27.80" height="190.00" fill="#a9e3e7"/>
<rect x="528.50" y="670.90" width="27.80" height="3.70" fill="#3f7fba"/>
<rect x="528.50" y="636.70" width="27.80" height="34.20" fill="#f08026"/>
<rect x="528.50" y="634.80" width="27.80" height="1.90" fill="#d93a3a"/>
<rect x="528.50" y="630.20" width="27.80" height="4.60" fill="#8f5a50"/>
<rect x="528.50" y="613.00" width="27.80" height="17.20" fill="#e079d0"/>
<rect x="528.50" y="556.20" width="27.80" height="56.80" fill="#808080"/>
<rect x="528.50" y="543.60" width="27.80" height="12.60" fill="#bcc23a"/>
<rect x="528.50" y="480.00" width="27.80" height="63.60" fill="#5fd3d8"/>
<rect x="528.50" y="416.00" width="27.80" height="64.00" fill="#a9e3e7"/>
<rect x="584.20" y="655.20" width="27.80" height="19.40" fill="#3f7fba"/>
<rect x="584.20" y="639.30" width="27.80" height="15.90" fill="#f08026"/>
<rect x="584.20" y="638.00" width="27.80" height="1.30" fill="#9c72c6"/>
<rect x="584.20" y="634.80" width="27.80" height="3.20" fill="#8f5a50"/>
<rect x="584.20" y="566.30" width="27.80" height="68.50" fill="#e079d0"/>
<rect x="584.20" y="544.20" width="27.80" height="22.10" fill="#808080"/>
<rect x="584.20" y="537.40" width="27.80" height="6.80" fill="#bcc23a"/>
<rect x="584.20" y="532.30" width="27.80" height="5.10" fill="#5fd3d8"/>
<rect x="584.20" y="416.00" width="27.80" height="116.30" fill="#a9e3e7"/>
<rect x="639.90" y="665.20" width="27.80" height="9.40" fill="#3f7fba"/>
<rect x="639.90" y="663.20" width="27.80" height="2.00" fill="#f08026"/>
<rect x="639.90" y="657.60" width="27.80" height="5.60" fill="#3cae3c"/>
<rect x="639.90" y="653.70" width="27.80" height="3.90" fill="#d93a3a"/>
<rect x="639.90" y="652.60" width="27.80" height="1.10" fill="#9c72c6"/>
<rect x="639.90" y="648.20" width="27.80" height="4.40" fill="#8f5a50"/>
<rect x="639.90" y="617.40" width="27.80" height="30.80" fill="#e079d0"/>
<rect x="639.90" y="599.50" width="27.80" height="17.90" fill="#808080"/>
<rect x="639.90" y="591.10" width="27.80" height="8.40" fill="#bcc23a"/>
<rect x="639.90" y="527.80" width="27.80" height="63.30" fill="#5fd3d8"/>
<rect x="639.90" y="416.00" width="27.80" height="111.80" fill="#a9e3e7"/>
<rect x="474.8" y="407.2" width="202.0" height="89.9" rx="2.5" fill="#fff" fill-opacity="0.8" stroke="#d4d4d4" stroke-width="1"/>
<rect x="478.3" y="412.00" width="19.9" height="7.0" fill="#3f7fba"/>
<text x="506.50" y="419.30" font-size="10.0" text-anchor="start" fill="#262626" textLength="73.20" lengthAdjust="spacingAndGlyphs" >Compound-cry</text>
<rect x="478.3" y="426.60" width="19.9" height="7.0" fill="#f08026"/>
<text x="506.50" y="433.90" font-size="10.0" text-anchor="start" fill="#262626" textLength="17.00" lengthAdjust="spacingAndGlyphs" >Cry</text>
<rect x="478.3" y="441.20" width="19.9" height="7.0" fill="#3cae3c"/>
<text x="506.50" y="448.50" font-size="10.0" text-anchor="start" fill="#262626" textLength="19.00" lengthAdjust="spacingAndGlyphs" >Egg</text>
<rect x="478.3" y="455.80" width="19.9" height="7.0" fill="#d93a3a"/>
<text x="506.50" y="463.10" font-size="10.0" text-anchor="start" fill="#262626" textLength="19.20" lengthAdjust="spacingAndGlyphs" >Ock</text>
<rect x="478.3" y="470.40" width="19.9" height="7.0" fill="#9c72c6"/>
<text x="506.50" y="477.70" font-size="10.0" text-anchor="start" fill="#262626" textLength="28.40" lengthAdjust="spacingAndGlyphs" >Other</text>
<rect x="478.3" y="485.00" width="19.9" height="7.0" fill="#8f5a50"/>
<text x="506.50" y="492.30" font-size="10.0" text-anchor="start" fill="#262626" textLength="24.30" lengthAdjust="spacingAndGlyphs" >Peep</text>
<rect x="599.6" y="412.00" width="19.9" height="7.0" fill="#e079d0"/>
<text x="627.60" y="419.30" font-size="10.0" text-anchor="start" fill="#262626" textLength="24.70" lengthAdjust="spacingAndGlyphs" >Phee</text>
<rect x="599.6" y="426.60" width="19.9" height="7.0" fill="#808080"/>
<text x="627.60" y="433.90" font-size="10.0" text-anchor="start" fill="#262626" textLength="16.60" lengthAdjust="spacingAndGlyphs" >Trill</text>
<rect x="599.6" y="441.20" width="19.9" height="7.0" fill="#bcc23a"/>
<text x="627.60" y="448.50" font-size="10.0" text-anchor="start" fill="#262626" textLength="45.30" lengthAdjust="spacingAndGlyphs" >Trill-phee</text>
<rect x="599.6" y="455.80" width="19.9" height="7.0" fill="#5fd3d8"/>
<text x="627.60" y="463.10" font-size="10.0" text-anchor="start" fill="#262626" textLength="18.00" lengthAdjust="spacingAndGlyphs" >Tsik</text>
<rect x="599.6" y="470.40" width="19.9" height="7.0" fill="#a9e3e7"/>
<text x="627.60" y="477.70" font-size="10.0" text-anchor="start" fill="#262626" textLength="33.50" lengthAdjust="spacingAndGlyphs" >Twitter</text>
</g></svg></body></html>
